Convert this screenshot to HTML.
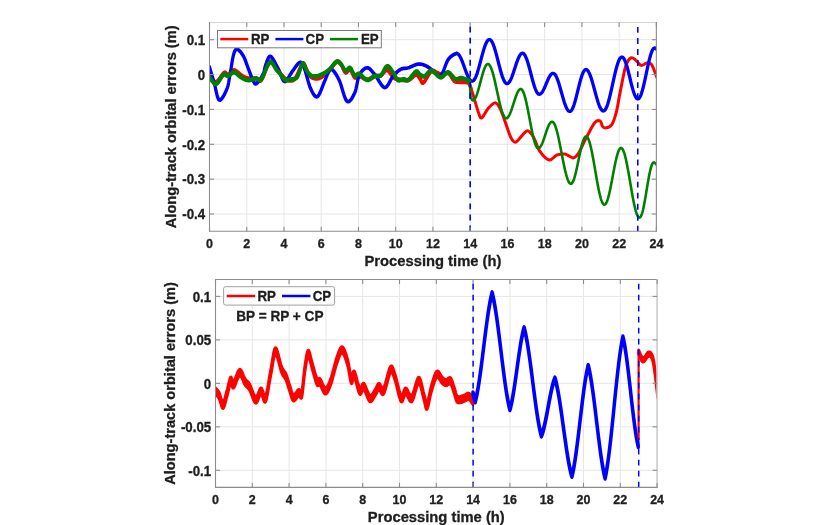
<!DOCTYPE html>
<html><head><meta charset="utf-8"><style>
html,body{margin:0;padding:0;background:#fff;width:834px;height:525px;overflow:hidden}
svg{display:block;will-change:transform;filter:blur(0.35px)}
text{font-family:"Liberation Sans", sans-serif;font-weight:bold;stroke:#1e1e1e;stroke-width:0.3px}
</style></head><body>
<svg width="834" height="525" viewBox="0 0 834 525" font-family="'Liberation Sans', sans-serif" font-weight="bold" fill="#1e1e1e">
<defs>
<clipPath id="ct"><rect x="209.5" y="22.5" width="446.88" height="208.70"/></clipPath>
<clipPath id="cb"><rect x="215.5" y="279.5" width="441.60" height="207.90"/></clipPath>
</defs>
<rect width="834" height="525" fill="#fff"/>
<line x1="209.50" y1="22.5" x2="209.50" y2="231.2" stroke="#e6e6e6" stroke-width="1"/>
<line x1="246.74" y1="22.5" x2="246.74" y2="231.2" stroke="#e6e6e6" stroke-width="1"/>
<line x1="283.98" y1="22.5" x2="283.98" y2="231.2" stroke="#e6e6e6" stroke-width="1"/>
<line x1="321.22" y1="22.5" x2="321.22" y2="231.2" stroke="#e6e6e6" stroke-width="1"/>
<line x1="358.46" y1="22.5" x2="358.46" y2="231.2" stroke="#e6e6e6" stroke-width="1"/>
<line x1="395.70" y1="22.5" x2="395.70" y2="231.2" stroke="#e6e6e6" stroke-width="1"/>
<line x1="432.94" y1="22.5" x2="432.94" y2="231.2" stroke="#e6e6e6" stroke-width="1"/>
<line x1="470.18" y1="22.5" x2="470.18" y2="231.2" stroke="#e6e6e6" stroke-width="1"/>
<line x1="507.42" y1="22.5" x2="507.42" y2="231.2" stroke="#e6e6e6" stroke-width="1"/>
<line x1="544.66" y1="22.5" x2="544.66" y2="231.2" stroke="#e6e6e6" stroke-width="1"/>
<line x1="581.90" y1="22.5" x2="581.90" y2="231.2" stroke="#e6e6e6" stroke-width="1"/>
<line x1="619.14" y1="22.5" x2="619.14" y2="231.2" stroke="#e6e6e6" stroke-width="1"/>
<line x1="656.38" y1="22.5" x2="656.38" y2="231.2" stroke="#e6e6e6" stroke-width="1"/>
<line x1="209.5" y1="39.70" x2="656.38" y2="39.70" stroke="#e6e6e6" stroke-width="1"/>
<line x1="209.5" y1="74.56" x2="656.38" y2="74.56" stroke="#e6e6e6" stroke-width="1"/>
<line x1="209.5" y1="109.42" x2="656.38" y2="109.42" stroke="#e6e6e6" stroke-width="1"/>
<line x1="209.5" y1="144.28" x2="656.38" y2="144.28" stroke="#e6e6e6" stroke-width="1"/>
<line x1="209.5" y1="179.14" x2="656.38" y2="179.14" stroke="#e6e6e6" stroke-width="1"/>
<line x1="209.5" y1="214.00" x2="656.38" y2="214.00" stroke="#e6e6e6" stroke-width="1"/>
<line x1="215.50" y1="279.5" x2="215.50" y2="487.4" stroke="#e6e6e6" stroke-width="1"/>
<line x1="252.30" y1="279.5" x2="252.30" y2="487.4" stroke="#e6e6e6" stroke-width="1"/>
<line x1="289.10" y1="279.5" x2="289.10" y2="487.4" stroke="#e6e6e6" stroke-width="1"/>
<line x1="325.90" y1="279.5" x2="325.90" y2="487.4" stroke="#e6e6e6" stroke-width="1"/>
<line x1="362.70" y1="279.5" x2="362.70" y2="487.4" stroke="#e6e6e6" stroke-width="1"/>
<line x1="399.50" y1="279.5" x2="399.50" y2="487.4" stroke="#e6e6e6" stroke-width="1"/>
<line x1="436.30" y1="279.5" x2="436.30" y2="487.4" stroke="#e6e6e6" stroke-width="1"/>
<line x1="473.10" y1="279.5" x2="473.10" y2="487.4" stroke="#e6e6e6" stroke-width="1"/>
<line x1="509.90" y1="279.5" x2="509.90" y2="487.4" stroke="#e6e6e6" stroke-width="1"/>
<line x1="546.70" y1="279.5" x2="546.70" y2="487.4" stroke="#e6e6e6" stroke-width="1"/>
<line x1="583.50" y1="279.5" x2="583.50" y2="487.4" stroke="#e6e6e6" stroke-width="1"/>
<line x1="620.30" y1="279.5" x2="620.30" y2="487.4" stroke="#e6e6e6" stroke-width="1"/>
<line x1="657.10" y1="279.5" x2="657.10" y2="487.4" stroke="#e6e6e6" stroke-width="1"/>
<line x1="215.5" y1="296.40" x2="657.0999999999999" y2="296.40" stroke="#e6e6e6" stroke-width="1"/>
<line x1="215.5" y1="339.88" x2="657.0999999999999" y2="339.88" stroke="#e6e6e6" stroke-width="1"/>
<line x1="215.5" y1="383.35" x2="657.0999999999999" y2="383.35" stroke="#e6e6e6" stroke-width="1"/>
<line x1="215.5" y1="426.83" x2="657.0999999999999" y2="426.83" stroke="#e6e6e6" stroke-width="1"/>
<line x1="215.5" y1="470.30" x2="657.0999999999999" y2="470.30" stroke="#e6e6e6" stroke-width="1"/>
<g clip-path="url(#ct)">
<path d="M209.30,75.80 L209.82,76.33 L210.49,77.16 L211.29,78.14 L212.19,79.18 L213.16,80.15 L214.15,80.92 L215.14,81.37 L216.10,81.40 L217.08,80.87 L218.14,79.85 L219.24,78.50 L220.34,76.96 L221.43,75.40 L222.45,73.97 L223.39,72.81 L224.20,72.10 L224.86,71.87 L225.38,72.00 L225.80,72.39 L226.17,72.91 L226.52,73.47 L226.90,73.97 L227.35,74.28 L227.90,74.30 L228.54,73.97 L229.23,73.37 L229.96,72.59 L230.73,71.74 L231.53,70.91 L232.36,70.21 L233.22,69.74 L234.10,69.60 L235.03,69.83 L236.02,70.35 L237.05,71.08 L238.10,71.95 L239.15,72.87 L240.18,73.78 L241.17,74.58 L242.10,75.20 L242.96,75.68 L243.76,76.10 L244.52,76.47 L245.26,76.80 L246.00,77.08 L246.74,77.32 L247.50,77.53 L248.30,77.70 L249.14,77.81 L250.01,77.84 L250.91,77.81 L251.81,77.76 L252.71,77.69 L253.59,77.65 L254.46,77.64 L255.30,77.70 L256.09,77.96 L256.83,78.45 L257.55,79.06 L258.26,79.64 L258.98,80.09 L259.73,80.26 L260.53,80.04 L261.40,79.30 L262.35,77.79 L263.38,75.52 L264.45,72.76 L265.56,69.77 L266.67,66.84 L267.76,64.22 L268.81,62.18 L269.80,61.00 L270.72,60.71 L271.59,61.06 L272.43,61.92 L273.25,63.13 L274.06,64.55 L274.88,66.04 L275.72,67.43 L276.60,68.60 L277.53,69.65 L278.51,70.77 L279.51,71.94 L280.52,73.10 L281.52,74.23 L282.48,75.27 L283.38,76.21 L284.20,77.00 L284.92,77.65 L285.56,78.21 L286.14,78.68 L286.69,79.06 L287.22,79.35 L287.77,79.58 L288.35,79.72 L289.00,79.80 L289.70,79.86 L290.42,79.92 L291.16,79.93 L291.92,79.86 L292.70,79.64 L293.51,79.24 L294.34,78.61 L295.20,77.70 L296.11,76.29 L297.09,74.33 L298.12,72.02 L299.16,69.59 L300.18,67.24 L301.16,65.18 L302.08,63.63 L302.90,62.80 L303.61,62.76 L304.25,63.35 L304.82,64.41 L305.34,65.77 L305.85,67.30 L306.34,68.84 L306.85,70.22 L307.40,71.30 L307.95,72.17 L308.47,73.00 L308.99,73.80 L309.51,74.55 L310.05,75.24 L310.64,75.85 L311.28,76.37 L312.00,76.80 L312.80,77.15 L313.65,77.45 L314.56,77.68 L315.51,77.83 L316.50,77.88 L317.52,77.82 L318.55,77.63 L319.60,77.30 L320.68,76.80 L321.82,76.12 L323.00,75.31 L324.20,74.39 L325.40,73.40 L326.58,72.37 L327.72,71.32 L328.80,70.30 L329.85,69.19 L330.88,67.92 L331.90,66.57 L332.89,65.21 L333.84,63.92 L334.75,62.79 L335.60,61.89 L336.40,61.30 L337.12,61.02 L337.76,60.99 L338.35,61.15 L338.89,61.49 L339.41,61.95 L339.93,62.52 L340.45,63.15 L341.00,63.80 L341.57,64.61 L342.13,65.67 L342.69,66.88 L343.25,68.14 L343.81,69.36 L344.37,70.44 L344.93,71.29 L345.50,71.80 L346.07,71.88 L346.64,71.57 L347.22,71.00 L347.79,70.30 L348.37,69.60 L348.95,69.03 L349.52,68.72 L350.10,68.80 L350.68,69.34 L351.25,70.25 L351.83,71.41 L352.41,72.71 L352.98,74.01 L353.56,75.21 L354.13,76.18 L354.70,76.80 L355.24,77.03 L355.75,76.98 L356.24,76.71 L356.74,76.33 L357.26,75.91 L357.83,75.55 L358.47,75.31 L359.20,75.30 L360.04,75.55 L360.96,75.99 L361.96,76.55 L363.01,77.17 L364.08,77.77 L365.15,78.29 L366.20,78.66 L367.20,78.80 L368.18,78.69 L369.16,78.37 L370.15,77.91 L371.12,77.36 L372.08,76.78 L373.01,76.22 L373.92,75.74 L374.80,75.40 L375.63,75.22 L376.43,75.15 L377.20,75.15 L377.94,75.17 L378.68,75.19 L379.41,75.14 L380.15,74.99 L380.90,74.70 L381.66,74.17 L382.43,73.39 L383.19,72.47 L383.95,71.52 L384.71,70.62 L385.47,69.89 L386.24,69.41 L387.00,69.30 L387.77,69.61 L388.56,70.29 L389.35,71.23 L390.14,72.33 L390.92,73.48 L391.68,74.60 L392.41,75.57 L393.10,76.30 L393.71,76.81 L394.21,77.22 L394.67,77.54 L395.12,77.79 L395.60,77.99 L396.16,78.16 L396.85,78.32 L397.70,78.50 L398.76,78.71 L400.00,78.94 L401.36,79.17 L402.81,79.38 L404.27,79.52 L405.71,79.57 L407.07,79.51 L408.30,79.30 L409.43,78.86 L410.52,78.17 L411.56,77.32 L412.56,76.40 L413.51,75.51 L414.40,74.73 L415.23,74.17 L416.00,73.90 L416.68,73.95 L417.27,74.24 L417.80,74.71 L418.27,75.31 L418.71,75.99 L419.13,76.68 L419.55,77.34 L420.00,77.90 L420.42,78.51 L420.78,79.26 L421.12,80.08 L421.45,80.87 L421.81,81.54 L422.24,81.99 L422.76,82.14 L423.40,81.90 L424.20,81.11 L425.13,79.80 L426.16,78.14 L427.26,76.29 L428.37,74.42 L429.45,72.70 L430.48,71.31 L431.40,70.40 L432.23,69.99 L433.01,69.92 L433.75,70.11 L434.46,70.47 L435.14,70.95 L435.81,71.45 L436.46,71.89 L437.10,72.20 L437.71,72.44 L438.27,72.70 L438.80,72.97 L439.32,73.24 L439.85,73.48 L440.41,73.68 L441.02,73.83 L441.70,73.90 L442.46,73.83 L443.29,73.60 L444.17,73.28 L445.08,72.94 L446.00,72.64 L446.91,72.46 L447.78,72.45 L448.60,72.70 L449.37,73.26 L450.11,74.11 L450.83,75.16 L451.53,76.31 L452.22,77.47 L452.90,78.57 L453.60,79.51 L454.30,80.20 L455.00,80.65 L455.67,80.94 L456.34,81.10 L457.01,81.18 L457.69,81.21 L458.41,81.21 L459.18,81.23 L460.00,81.30 L460.92,81.37 L461.96,81.37 L463.06,81.35 L464.17,81.33 L465.27,81.35 L466.30,81.42 L467.23,81.60 L468.00,81.90 L468.63,82.38 L469.15,83.04 L469.59,83.81 L469.95,84.64 L470.25,85.46 L470.50,86.22 L470.71,86.85 L470.90,87.30 L470.90,88.70 L470.71,88.25 L470.50,87.62 L470.25,86.86 L469.95,86.04 L469.59,85.21 L469.15,84.44 L468.63,83.78 L468.00,83.30 L467.23,83.00 L466.30,82.82 L465.27,82.75 L464.17,82.73 L463.06,82.75 L461.96,82.77 L460.92,82.77 L460.00,82.70 L459.18,82.63 L458.41,82.61 L457.69,82.61 L457.01,82.58 L456.34,82.50 L455.67,82.34 L455.00,82.05 L454.30,81.60 L453.60,80.91 L452.90,79.97 L452.22,78.87 L451.53,77.71 L450.83,76.56 L450.11,75.51 L449.37,74.66 L448.60,74.10 L447.78,73.85 L446.91,73.86 L446.00,74.04 L445.08,74.34 L444.17,74.68 L443.29,75.00 L442.46,75.23 L441.70,75.30 L441.02,75.23 L440.41,75.08 L439.85,74.88 L439.32,74.64 L438.80,74.37 L438.27,74.10 L437.71,73.84 L437.10,73.60 L436.46,73.29 L435.81,72.85 L435.14,72.35 L434.46,71.88 L433.75,71.51 L433.01,71.32 L432.23,71.39 L431.40,71.80 L430.48,72.71 L429.45,74.10 L428.37,75.82 L427.26,77.69 L426.16,79.54 L425.13,81.20 L424.20,82.51 L423.40,83.30 L422.76,83.54 L422.24,83.39 L421.81,82.94 L421.45,82.27 L421.12,81.48 L420.78,80.66 L420.42,79.91 L420.00,79.30 L419.55,78.74 L419.13,78.08 L418.71,77.39 L418.27,76.71 L417.80,76.11 L417.27,75.64 L416.68,75.35 L416.00,75.30 L415.23,75.57 L414.40,76.13 L413.51,76.91 L412.56,77.80 L411.56,78.72 L410.52,79.57 L409.43,80.26 L408.30,80.70 L407.07,80.91 L405.71,80.97 L404.27,80.92 L402.81,80.78 L401.36,80.58 L400.00,80.34 L398.76,80.11 L397.70,79.90 L396.85,79.72 L396.16,79.56 L395.60,79.39 L395.12,79.19 L394.67,78.94 L394.21,78.62 L393.71,78.21 L393.10,77.70 L392.41,76.97 L391.68,76.00 L390.92,74.88 L390.14,73.73 L389.35,72.63 L388.56,71.69 L387.77,71.01 L387.00,70.70 L386.24,70.81 L385.47,71.29 L384.71,72.02 L383.95,72.92 L383.19,73.87 L382.43,74.79 L381.66,75.57 L380.90,76.10 L380.15,76.39 L379.41,76.54 L378.68,76.59 L377.94,76.57 L377.20,76.55 L376.43,76.55 L375.63,76.62 L374.80,76.80 L373.92,77.14 L373.01,77.62 L372.08,78.18 L371.12,78.76 L370.15,79.31 L369.16,79.77 L368.18,80.09 L367.20,80.20 L366.20,80.06 L365.15,79.69 L364.08,79.17 L363.01,78.57 L361.96,77.95 L360.96,77.39 L360.04,76.95 L359.20,76.70 L358.47,76.71 L357.83,76.95 L357.26,77.31 L356.74,77.73 L356.24,78.11 L355.75,78.38 L355.24,78.43 L354.70,78.20 L354.13,77.58 L353.56,76.61 L352.98,75.41 L352.41,74.11 L351.83,72.81 L351.25,71.65 L350.68,70.74 L350.10,70.20 L349.52,70.12 L348.95,70.43 L348.37,71.00 L347.79,71.70 L347.22,72.40 L346.64,72.97 L346.07,73.28 L345.50,73.20 L344.93,72.69 L344.37,71.84 L343.81,70.76 L343.25,69.54 L342.69,68.28 L342.13,67.07 L341.57,66.01 L341.00,65.20 L340.45,64.55 L339.93,63.92 L339.41,63.35 L338.89,62.89 L338.35,62.55 L337.76,62.39 L337.12,62.42 L336.40,62.70 L335.60,63.29 L334.75,64.19 L333.84,65.32 L332.89,66.61 L331.90,67.97 L330.88,69.32 L329.85,70.59 L328.80,71.70 L327.72,72.72 L326.58,73.77 L325.40,74.80 L324.20,75.79 L323.00,76.71 L321.82,77.52 L320.68,78.20 L319.60,78.70 L318.55,79.03 L317.52,79.22 L316.50,79.28 L315.51,79.23 L314.56,79.08 L313.65,78.85 L312.80,78.55 L312.00,78.20 L311.28,77.77 L310.64,77.25 L310.05,76.64 L309.51,75.95 L308.99,75.20 L308.47,74.40 L307.95,73.57 L307.40,72.70 L306.85,71.62 L306.34,70.24 L305.85,68.70 L305.34,67.17 L304.82,65.81 L304.25,64.75 L303.61,64.16 L302.90,64.20 L302.08,65.03 L301.16,66.58 L300.18,68.64 L299.16,70.99 L298.12,73.42 L297.09,75.73 L296.11,77.69 L295.20,79.10 L294.34,80.01 L293.51,80.64 L292.70,81.04 L291.92,81.26 L291.16,81.33 L290.42,81.32 L289.70,81.26 L289.00,81.20 L288.35,81.12 L287.77,80.98 L287.22,80.75 L286.69,80.46 L286.14,80.08 L285.56,79.61 L284.92,79.05 L284.20,78.40 L283.38,77.61 L282.48,76.67 L281.52,75.63 L280.52,74.50 L279.51,73.34 L278.51,72.17 L277.53,71.05 L276.60,70.00 L275.72,68.83 L274.88,67.44 L274.06,65.95 L273.25,64.53 L272.43,63.32 L271.59,62.46 L270.72,62.11 L269.80,62.40 L268.81,63.58 L267.76,65.62 L266.67,68.24 L265.56,71.17 L264.45,74.16 L263.38,76.92 L262.35,79.19 L261.40,80.70 L260.53,81.44 L259.73,81.66 L258.98,81.49 L258.26,81.04 L257.55,80.46 L256.83,79.85 L256.09,79.36 L255.30,79.10 L254.46,79.04 L253.59,79.05 L252.71,79.09 L251.81,79.16 L250.91,79.21 L250.01,79.24 L249.14,79.21 L248.30,79.10 L247.50,78.93 L246.74,78.72 L246.00,78.48 L245.26,78.20 L244.52,77.87 L243.76,77.50 L242.96,77.08 L242.10,76.60 L241.17,75.98 L240.18,75.18 L239.15,74.27 L238.10,73.35 L237.05,72.48 L236.02,71.75 L235.03,71.23 L234.10,71.00 L233.22,71.14 L232.36,71.61 L231.53,72.31 L230.73,73.14 L229.96,73.99 L229.23,74.77 L228.54,75.37 L227.90,75.70 L227.35,75.68 L226.90,75.37 L226.52,74.88 L226.17,74.31 L225.80,73.79 L225.38,73.40 L224.86,73.27 L224.20,73.50 L223.39,74.21 L222.45,75.37 L221.43,76.80 L220.34,78.36 L219.24,79.90 L218.14,81.25 L217.08,82.27 L216.10,82.80 L215.14,82.77 L214.15,82.32 L213.16,81.55 L212.19,80.58 L211.29,79.54 L210.49,78.56 L209.82,77.73 L209.30,77.20Z" fill="#ff0000" stroke="#ff0000" stroke-width="3.0" stroke-linejoin="round"/>
<path d="M470.9,88.0 C471.4,89.7 472.8,93.9 474.1,98.1 C475.4,102.3 477.4,110.0 478.7,113.3 C480.0,116.6 480.3,118.7 481.8,117.9 C483.3,117.2 485.7,111.3 487.9,108.8 C490.1,106.3 493.1,102.7 495.2,102.7 C497.2,102.7 498.6,105.7 500.2,108.7 C501.8,111.7 503.0,116.1 504.8,120.9 C506.6,125.7 509.1,134.1 510.9,137.7 C512.7,141.2 513.7,142.5 515.5,142.2 C517.3,141.9 519.6,138.0 521.6,136.1 C523.6,134.2 525.7,130.5 527.7,130.8 C529.7,131.1 531.8,134.3 533.8,137.7 C535.8,141.1 537.3,147.7 539.9,151.4 C542.5,155.1 546.5,159.4 549.3,160.0 C552.1,160.6 554.0,156.2 556.6,155.2 C559.2,154.2 562.0,153.6 564.8,154.0 C567.6,154.4 570.9,158.0 573.2,157.9 C575.5,157.8 576.9,155.6 578.5,153.3 C580.1,151.0 581.6,147.2 583.1,144.1 C584.6,141.0 585.7,138.6 587.7,135.0 C589.7,131.4 592.8,124.9 594.9,122.6 C597.0,120.3 598.9,120.4 600.2,121.0 C601.5,121.6 601.6,125.2 602.5,126.4 C603.4,127.6 604.0,128.2 605.5,127.9 C607.0,127.7 609.8,127.4 611.6,124.9 C613.4,122.4 614.8,118.0 616.2,112.7 C617.6,107.4 618.4,100.7 620.0,92.9 C621.6,85.1 623.9,71.9 625.7,66.1 C627.5,60.2 629.2,58.7 631.0,57.8 C632.8,56.9 634.7,59.5 636.4,60.8 C638.1,62.1 639.2,65.0 641.0,65.4 C642.8,65.8 645.2,63.2 647.0,63.1 C648.8,63.0 649.9,62.2 651.6,64.6 C653.3,67.0 656.1,75.4 657.0,77.6" fill="none" stroke="#ff0000" stroke-width="3.0" stroke-linejoin="round" stroke-linecap="round" />
<path d="M209.30,66.35 L209.66,67.52 L210.13,69.06 L210.70,70.88 L211.32,72.92 L211.99,75.11 L212.68,77.36 L213.36,79.60 L214.00,81.75 L214.61,84.07 L215.21,86.74 L215.81,89.56 L216.43,92.37 L217.06,94.97 L217.73,97.19 L218.44,98.85 L219.20,99.75 L220.06,99.82 L221.02,99.20 L222.04,98.04 L223.08,96.47 L224.11,94.67 L225.08,92.76 L225.96,90.91 L226.70,89.25 L227.29,87.75 L227.77,86.24 L228.16,84.70 L228.49,83.11 L228.79,81.43 L229.09,79.64 L229.41,77.73 L229.80,75.65 L230.23,73.27 L230.68,70.56 L231.14,67.64 L231.61,64.65 L232.09,61.72 L232.56,58.99 L233.03,56.59 L233.50,54.65 L233.95,53.13 L234.37,51.88 L234.78,50.88 L235.19,50.11 L235.63,49.57 L236.10,49.22 L236.62,49.05 L237.20,49.05 L237.86,49.27 L238.60,49.75 L239.40,50.45 L240.23,51.33 L241.06,52.34 L241.88,53.47 L242.67,54.65 L243.40,55.85 L244.07,57.13 L244.71,58.55 L245.33,60.09 L245.92,61.69 L246.51,63.35 L247.10,65.01 L247.69,66.66 L248.30,68.25 L248.93,69.88 L249.59,71.60 L250.25,73.37 L250.91,75.12 L251.55,76.79 L252.17,78.33 L252.76,79.67 L253.30,80.75 L253.76,81.62 L254.15,82.35 L254.49,82.92 L254.81,83.34 L255.14,83.59 L255.52,83.66 L255.96,83.55 L256.50,83.25 L257.17,82.69 L257.95,81.87 L258.81,80.82 L259.71,79.62 L260.60,78.31 L261.46,76.96 L262.24,75.62 L262.90,74.35 L263.44,73.09 L263.87,71.75 L264.24,70.37 L264.57,68.97 L264.88,67.59 L265.20,66.24 L265.57,64.95 L266.00,63.75 L266.47,62.51 L266.95,61.15 L267.45,59.78 L267.97,58.48 L268.52,57.35 L269.12,56.51 L269.78,56.04 L270.50,56.05 L271.31,56.62 L272.21,57.68 L273.17,59.13 L274.18,60.86 L275.19,62.74 L276.20,64.68 L277.18,66.55 L278.10,68.25 L278.96,69.99 L279.78,71.98 L280.57,74.07 L281.35,76.13 L282.13,78.02 L282.92,79.59 L283.74,80.72 L284.60,81.25 L285.50,81.10 L286.42,80.37 L287.37,79.18 L288.33,77.69 L289.30,76.02 L290.27,74.31 L291.24,72.71 L292.20,71.35 L293.17,70.06 L294.17,68.64 L295.18,67.18 L296.19,65.75 L297.17,64.45 L298.11,63.36 L298.99,62.56 L299.80,62.15 L300.51,62.09 L301.13,62.28 L301.68,62.71 L302.19,63.39 L302.70,64.29 L303.21,65.40 L303.77,66.73 L304.40,68.25 L305.09,70.15 L305.80,72.50 L306.55,75.17 L307.31,78.01 L308.10,80.86 L308.89,83.58 L309.69,86.03 L310.50,88.05 L311.32,89.80 L312.15,91.49 L312.99,93.04 L313.85,94.39 L314.71,95.48 L315.58,96.23 L316.44,96.57 L317.30,96.45 L318.17,95.71 L319.07,94.34 L319.98,92.52 L320.89,90.39 L321.78,88.11 L322.63,85.84 L323.45,83.73 L324.20,81.95 L324.89,80.38 L325.53,78.81 L326.13,77.29 L326.69,75.84 L327.23,74.49 L327.76,73.28 L328.28,72.22 L328.80,71.35 L329.29,70.64 L329.74,70.03 L330.15,69.55 L330.56,69.22 L330.99,69.05 L331.46,69.07 L331.99,69.30 L332.60,69.75 L333.30,70.43 L334.07,71.33 L334.90,72.43 L335.76,73.71 L336.66,75.17 L337.57,76.79 L338.49,78.55 L339.40,80.45 L340.31,82.75 L341.24,85.58 L342.19,88.72 L343.14,91.94 L344.11,95.01 L345.07,97.71 L346.04,99.80 L347.00,101.05 L347.98,101.45 L348.99,101.21 L350.01,100.44 L351.03,99.26 L352.03,97.77 L352.98,96.10 L353.88,94.35 L354.70,92.65 L355.41,90.79 L356.01,88.59 L356.55,86.16 L357.04,83.62 L357.54,81.10 L358.08,78.70 L358.68,76.54 L359.40,74.75 L360.23,73.24 L361.14,71.87 L362.11,70.65 L363.12,69.61 L364.15,68.75 L365.19,68.11 L366.21,67.71 L367.20,67.55 L368.14,67.69 L369.06,68.12 L369.96,68.80 L370.87,69.69 L371.79,70.73 L372.74,71.89 L373.74,73.11 L374.80,74.35 L375.94,75.85 L377.15,77.74 L378.41,79.85 L379.70,81.99 L381.00,84.00 L382.28,85.68 L383.52,86.85 L384.70,87.35 L385.83,87.05 L386.92,86.09 L388.00,84.63 L389.04,82.84 L390.07,80.89 L391.09,78.97 L392.10,77.23 L393.10,75.85 L394.09,74.74 L395.06,73.70 L396.01,72.72 L396.95,71.83 L397.89,71.01 L398.82,70.27 L399.76,69.61 L400.70,69.05 L401.63,68.62 L402.53,68.36 L403.41,68.20 L404.31,68.11 L405.22,68.05 L406.18,67.96 L407.20,67.81 L408.30,67.55 L409.50,67.14 L410.79,66.60 L412.16,65.99 L413.56,65.37 L414.97,64.78 L416.36,64.28 L417.72,63.92 L419.00,63.75 L420.23,63.78 L421.46,63.97 L422.66,64.28 L423.84,64.68 L424.98,65.16 L426.07,65.68 L427.12,66.22 L428.10,66.75 L429.00,67.32 L429.82,67.97 L430.57,68.68 L431.29,69.41 L431.99,70.14 L432.69,70.85 L433.42,71.49 L434.20,72.05 L435.03,72.64 L435.88,73.32 L436.76,74.03 L437.64,74.67 L438.52,75.15 L439.40,75.40 L440.26,75.33 L441.10,74.85 L441.93,73.83 L442.76,72.28 L443.58,70.37 L444.39,68.25 L445.19,66.06 L445.96,63.97 L446.70,62.11 L447.40,60.65 L448.06,59.55 L448.67,58.65 L449.25,57.91 L449.81,57.31 L450.35,56.79 L450.89,56.34 L451.44,55.90 L452.00,55.45 L452.61,55.01 L453.26,54.62 L453.93,54.27 L454.59,53.97 L455.21,53.72 L455.77,53.50 L456.25,53.31 L456.60,53.15 L456.60,53.65 L456.25,53.81 L455.77,54.00 L455.21,54.22 L454.59,54.47 L453.93,54.77 L453.26,55.12 L452.61,55.51 L452.00,55.95 L451.44,56.40 L450.89,56.84 L450.35,57.29 L449.81,57.81 L449.25,58.41 L448.67,59.15 L448.06,60.05 L447.40,61.15 L446.70,62.61 L445.96,64.47 L445.19,66.56 L444.39,68.75 L443.58,70.87 L442.76,72.78 L441.93,74.33 L441.10,75.35 L440.26,75.83 L439.40,75.90 L438.52,75.65 L437.64,75.17 L436.76,74.53 L435.88,73.82 L435.03,73.14 L434.20,72.55 L433.42,71.99 L432.69,71.35 L431.99,70.64 L431.29,69.91 L430.57,69.18 L429.82,68.47 L429.00,67.82 L428.10,67.25 L427.12,66.72 L426.07,66.18 L424.98,65.66 L423.84,65.18 L422.66,64.78 L421.46,64.47 L420.23,64.28 L419.00,64.25 L417.72,64.42 L416.36,64.78 L414.97,65.28 L413.56,65.87 L412.16,66.49 L410.79,67.10 L409.50,67.64 L408.30,68.05 L407.20,68.31 L406.18,68.46 L405.22,68.55 L404.31,68.61 L403.41,68.70 L402.53,68.86 L401.63,69.12 L400.70,69.55 L399.76,70.11 L398.82,70.77 L397.89,71.51 L396.95,72.33 L396.01,73.22 L395.06,74.20 L394.09,75.24 L393.10,76.35 L392.10,77.73 L391.09,79.47 L390.07,81.39 L389.04,83.34 L388.00,85.13 L386.92,86.59 L385.83,87.55 L384.70,87.85 L383.52,87.35 L382.28,86.18 L381.00,84.50 L379.70,82.49 L378.41,80.35 L377.15,78.24 L375.94,76.35 L374.80,74.85 L373.74,73.61 L372.74,72.39 L371.79,71.23 L370.87,70.19 L369.96,69.30 L369.06,68.62 L368.14,68.19 L367.20,68.05 L366.21,68.21 L365.19,68.61 L364.15,69.25 L363.12,70.11 L362.11,71.15 L361.14,72.37 L360.23,73.74 L359.40,75.25 L358.68,77.04 L358.08,79.20 L357.54,81.60 L357.04,84.12 L356.55,86.66 L356.01,89.09 L355.41,91.29 L354.70,93.15 L353.88,94.85 L352.98,96.60 L352.03,98.27 L351.03,99.76 L350.01,100.94 L348.99,101.71 L347.98,101.95 L347.00,101.55 L346.04,100.30 L345.07,98.21 L344.11,95.51 L343.14,92.44 L342.19,89.22 L341.24,86.08 L340.31,83.25 L339.40,80.95 L338.49,79.05 L337.57,77.29 L336.66,75.67 L335.76,74.21 L334.90,72.93 L334.07,71.83 L333.30,70.93 L332.60,70.25 L331.99,69.80 L331.46,69.57 L330.99,69.55 L330.56,69.72 L330.15,70.05 L329.74,70.53 L329.29,71.14 L328.80,71.85 L328.28,72.72 L327.76,73.78 L327.23,74.99 L326.69,76.34 L326.13,77.79 L325.53,79.31 L324.89,80.88 L324.20,82.45 L323.45,84.23 L322.63,86.34 L321.78,88.61 L320.89,90.89 L319.98,93.02 L319.07,94.84 L318.17,96.21 L317.30,96.95 L316.44,97.07 L315.58,96.73 L314.71,95.98 L313.85,94.89 L312.99,93.54 L312.15,91.99 L311.32,90.30 L310.50,88.55 L309.69,86.53 L308.89,84.08 L308.10,81.36 L307.31,78.51 L306.55,75.67 L305.80,73.00 L305.09,70.65 L304.40,68.75 L303.77,67.23 L303.21,65.90 L302.70,64.79 L302.19,63.89 L301.68,63.21 L301.13,62.78 L300.51,62.59 L299.80,62.65 L298.99,63.06 L298.11,63.86 L297.17,64.95 L296.19,66.25 L295.18,67.68 L294.17,69.14 L293.17,70.56 L292.20,71.85 L291.24,73.21 L290.27,74.81 L289.30,76.52 L288.33,78.19 L287.37,79.68 L286.42,80.87 L285.50,81.60 L284.60,81.75 L283.74,81.22 L282.92,80.09 L282.13,78.52 L281.35,76.63 L280.57,74.57 L279.78,72.48 L278.96,70.49 L278.10,68.75 L277.18,67.05 L276.20,65.18 L275.19,63.24 L274.18,61.36 L273.17,59.63 L272.21,58.18 L271.31,57.12 L270.50,56.55 L269.78,56.54 L269.12,57.01 L268.52,57.85 L267.97,58.98 L267.45,60.28 L266.95,61.65 L266.47,63.01 L266.00,64.25 L265.57,65.45 L265.20,66.74 L264.88,68.09 L264.57,69.47 L264.24,70.87 L263.87,72.25 L263.44,73.59 L262.90,74.85 L262.24,76.12 L261.46,77.46 L260.60,78.81 L259.71,80.12 L258.81,81.32 L257.95,82.37 L257.17,83.19 L256.50,83.75 L255.96,84.05 L255.52,84.16 L255.14,84.09 L254.81,83.84 L254.49,83.42 L254.15,82.85 L253.76,82.12 L253.30,81.25 L252.76,80.17 L252.17,78.83 L251.55,77.29 L250.91,75.62 L250.25,73.87 L249.59,72.10 L248.93,70.38 L248.30,68.75 L247.69,67.16 L247.10,65.51 L246.51,63.85 L245.92,62.19 L245.33,60.59 L244.71,59.05 L244.07,57.63 L243.40,56.35 L242.67,55.15 L241.88,53.97 L241.06,52.84 L240.23,51.83 L239.40,50.95 L238.60,50.25 L237.86,49.77 L237.20,49.55 L236.62,49.55 L236.10,49.72 L235.63,50.07 L235.19,50.61 L234.78,51.38 L234.37,52.38 L233.95,53.63 L233.50,55.15 L233.03,57.09 L232.56,59.49 L232.09,62.22 L231.61,65.15 L231.14,68.14 L230.68,71.06 L230.23,73.77 L229.80,76.15 L229.41,78.23 L229.09,80.14 L228.79,81.93 L228.49,83.61 L228.16,85.20 L227.77,86.74 L227.29,88.25 L226.70,89.75 L225.96,91.41 L225.08,93.26 L224.11,95.17 L223.08,96.97 L222.04,98.54 L221.02,99.70 L220.06,100.32 L219.20,100.25 L218.44,99.35 L217.73,97.69 L217.06,95.47 L216.43,92.87 L215.81,90.06 L215.21,87.24 L214.61,84.57 L214.00,82.25 L213.36,80.10 L212.68,77.86 L211.99,75.61 L211.32,73.42 L210.70,71.38 L210.13,69.56 L209.66,68.02 L209.30,66.85Z" fill="#0000ff" stroke="#0000ff" stroke-width="3.2" stroke-linejoin="round"/>
<path d="M456.60,53.40 L457.10,53.47 L457.61,53.68 L458.11,54.04 L458.61,54.53 L459.12,55.15 L459.62,55.89 L460.12,56.75 L460.63,57.72 L461.13,58.79 L461.63,59.95 L462.14,61.18 L462.64,62.47 L463.14,63.82 L463.65,65.20 L464.15,66.60 L464.65,68.00 L465.15,69.40 L465.66,70.78 L466.16,72.13 L466.66,73.42 L467.17,74.65 L467.67,75.81 L468.17,76.88 L468.68,77.85 L469.18,78.71 L469.68,79.45 L470.19,80.07 L470.69,80.56 L471.19,80.92 L471.70,81.13 L472.20,81.20 L472.71,81.11 L473.21,80.84 L473.72,80.40 L474.22,79.79 L474.73,79.01 L475.24,78.08 L475.74,76.99 L476.25,75.76 L476.75,74.40 L477.26,72.91 L477.76,71.33 L478.27,69.64 L478.78,67.88 L479.28,66.06 L479.79,64.18 L480.29,62.27 L480.80,60.35 L481.31,58.43 L481.81,56.52 L482.32,54.64 L482.82,52.82 L483.33,51.06 L483.84,49.37 L484.34,47.79 L484.85,46.30 L485.35,44.94 L485.86,43.71 L486.36,42.62 L486.87,41.69 L487.38,40.91 L487.88,40.30 L488.39,39.86 L488.89,39.59 L489.40,39.50 L489.90,39.59 L490.41,39.86 L490.91,40.30 L491.41,40.91 L491.91,41.69 L492.42,42.63 L492.92,43.72 L493.42,44.96 L493.93,46.33 L494.43,47.82 L494.93,49.43 L495.43,51.13 L495.94,52.91 L496.44,54.77 L496.94,56.68 L497.45,58.63 L497.95,60.61 L498.45,62.59 L498.95,64.57 L499.46,66.52 L499.96,68.43 L500.46,70.29 L500.97,72.07 L501.47,73.77 L501.97,75.38 L502.47,76.87 L502.98,78.24 L503.48,79.48 L503.98,80.57 L504.49,81.51 L504.99,82.29 L505.49,82.90 L505.99,83.34 L506.50,83.61 L507.00,83.70 L507.50,83.62 L508.00,83.39 L508.50,83.00 L509.00,82.46 L509.50,81.78 L510.00,80.97 L510.50,80.02 L511.00,78.96 L511.50,77.78 L512.00,76.52 L512.50,75.17 L513.00,73.75 L513.50,72.27 L514.00,70.76 L514.50,69.22 L515.00,67.68 L515.50,66.14 L516.00,64.63 L516.50,63.15 L517.00,61.73 L517.50,60.38 L518.00,59.12 L518.50,57.94 L519.00,56.88 L519.50,55.93 L520.00,55.12 L520.50,54.44 L521.00,53.90 L521.50,53.51 L522.00,53.28 L522.50,53.20 L523.01,53.29 L523.52,53.57 L524.03,54.03 L524.54,54.67 L525.05,55.48 L525.55,56.46 L526.06,57.60 L526.57,58.88 L527.08,60.29 L527.59,61.83 L528.10,63.48 L528.61,65.21 L529.12,67.03 L529.63,68.91 L530.14,70.83 L530.65,72.77 L531.15,74.73 L531.66,76.67 L532.17,78.59 L532.68,80.47 L533.19,82.29 L533.70,84.02 L534.21,85.67 L534.72,87.21 L535.23,88.62 L535.74,89.90 L536.25,91.04 L536.75,92.02 L537.26,92.83 L537.77,93.47 L538.28,93.93 L538.79,94.21 L539.30,94.30 L539.81,94.23 L540.32,94.02 L540.83,93.67 L541.34,93.18 L541.86,92.57 L542.37,91.84 L542.88,91.01 L543.39,90.07 L543.90,89.05 L544.41,87.96 L544.92,86.81 L545.43,85.62 L545.94,84.41 L546.46,83.19 L546.97,81.98 L547.48,80.79 L547.99,79.64 L548.50,78.55 L549.01,77.53 L549.52,76.59 L550.03,75.76 L550.54,75.03 L551.06,74.42 L551.57,73.93 L552.08,73.58 L552.59,73.37 L553.10,73.30 L553.61,73.39 L554.11,73.65 L554.62,74.07 L555.12,74.67 L555.63,75.42 L556.14,76.33 L556.64,77.39 L557.15,78.58 L557.65,79.89 L558.16,81.32 L558.67,82.85 L559.17,84.47 L559.68,86.15 L560.18,87.90 L560.69,89.68 L561.20,91.49 L561.70,93.31 L562.21,95.12 L562.72,96.90 L563.22,98.65 L563.73,100.33 L564.23,101.95 L564.74,103.48 L565.25,104.91 L565.75,106.22 L566.26,107.41 L566.76,108.47 L567.27,109.38 L567.78,110.13 L568.28,110.73 L568.79,111.15 L569.29,111.41 L569.80,111.50 L570.30,111.40 L570.81,111.10 L571.31,110.60 L571.81,109.90 L572.32,109.02 L572.82,107.96 L573.32,106.73 L573.82,105.35 L574.33,103.82 L574.83,102.17 L575.33,100.40 L575.84,98.54 L576.34,96.60 L576.84,94.60 L577.35,92.56 L577.85,90.50 L578.35,88.44 L578.86,86.40 L579.36,84.40 L579.86,82.46 L580.37,80.60 L580.87,78.83 L581.37,77.18 L581.88,75.65 L582.38,74.27 L582.88,73.04 L583.38,71.98 L583.89,71.10 L584.39,70.40 L584.89,69.90 L585.40,69.60 L585.90,69.50 L586.40,69.58 L586.90,69.83 L587.40,70.25 L587.90,70.82 L588.40,71.55 L588.90,72.44 L589.40,73.46 L589.90,74.62 L590.40,75.91 L590.90,77.31 L591.40,78.82 L591.90,80.42 L592.40,82.09 L592.90,83.84 L593.40,85.63 L593.90,87.46 L594.40,89.32 L594.90,91.18 L595.40,93.04 L595.90,94.87 L596.40,96.66 L596.90,98.41 L597.40,100.08 L597.90,101.68 L598.40,103.19 L598.90,104.59 L599.40,105.88 L599.90,107.04 L600.40,108.06 L600.90,108.95 L601.40,109.68 L601.90,110.25 L602.40,110.67 L602.90,110.92 L603.40,111.00 L603.90,110.90 L604.40,110.61 L604.90,110.13 L605.40,109.46 L605.90,108.60 L606.40,107.57 L606.90,106.37 L607.40,105.01 L607.90,103.49 L608.40,101.84 L608.90,100.06 L609.40,98.16 L609.90,96.16 L610.40,94.07 L610.90,91.91 L611.40,89.69 L611.90,87.43 L612.40,85.15 L612.90,82.85 L613.40,80.57 L613.90,78.31 L614.40,76.09 L614.90,73.93 L615.40,71.84 L615.90,69.84 L616.40,67.94 L616.90,66.16 L617.40,64.51 L617.90,62.99 L618.40,61.63 L618.90,60.43 L619.40,59.40 L619.90,58.54 L620.40,57.87 L620.90,57.39 L621.40,57.10 L621.90,57.00 L622.40,57.10 L622.90,57.40 L623.40,57.90 L623.90,58.59 L624.40,59.47 L624.90,60.53 L625.40,61.76 L625.90,63.14 L626.40,64.66 L626.90,66.31 L627.40,68.07 L627.90,69.93 L628.40,71.87 L628.90,73.86 L629.40,75.90 L629.90,77.95 L630.40,80.00 L630.90,82.04 L631.40,84.03 L631.90,85.97 L632.40,87.83 L632.90,89.59 L633.40,91.24 L633.90,92.76 L634.40,94.14 L634.90,95.37 L635.40,96.43 L635.90,97.31 L636.40,98.00 L636.90,98.50 L637.40,98.80 L637.90,98.90 L638.41,98.78 L638.92,98.44 L639.43,97.87 L639.94,97.07 L640.45,96.07 L640.95,94.85 L641.46,93.44 L641.97,91.86 L642.48,90.10 L642.99,88.19 L643.50,86.15 L644.01,83.99 L644.52,81.74 L645.03,79.41 L645.54,77.03 L646.05,74.61 L646.55,72.19 L647.06,69.77 L647.57,67.39 L648.08,65.06 L648.59,62.81 L649.10,60.65 L649.61,58.61 L650.12,56.70 L650.63,54.94 L651.14,53.36 L651.65,51.95 L652.15,50.73 L652.66,49.73 L653.17,48.93 L653.68,48.36 L654.19,48.02 L654.70,47.90 L655.25,48.04 L655.80,48.42 L656.35,48.95 L656.90,49.48 L657.45,49.86 L658.00,50.00" fill="none" stroke="#0000ff" stroke-width="3.3" stroke-linejoin="round" stroke-linecap="round" />
<path d="M209.30,76.40 L209.82,77.04 L210.51,78.02 L211.32,79.20 L212.23,80.44 L213.20,81.61 L214.19,82.57 L215.17,83.18 L216.10,83.30 L217.03,82.82 L218.00,81.82 L219.00,80.46 L220.01,78.89 L220.99,77.28 L221.93,75.79 L222.81,74.58 L223.60,73.80 L224.28,73.49 L224.86,73.50 L225.36,73.75 L225.83,74.14 L226.29,74.57 L226.77,74.95 L227.29,75.19 L227.90,75.20 L228.58,74.92 L229.30,74.43 L230.06,73.81 L230.84,73.13 L231.65,72.48 L232.46,71.94 L233.28,71.59 L234.10,71.50 L234.92,71.71 L235.74,72.16 L236.58,72.79 L237.43,73.53 L238.28,74.32 L239.14,75.10 L240.02,75.81 L240.90,76.40 L241.79,76.91 L242.70,77.42 L243.62,77.91 L244.54,78.37 L245.48,78.78 L246.41,79.11 L247.36,79.36 L248.30,79.50 L249.26,79.49 L250.26,79.33 L251.27,79.07 L252.28,78.74 L253.27,78.40 L254.23,78.08 L255.15,77.83 L256.00,77.70 L256.76,77.80 L257.44,78.13 L258.06,78.58 L258.66,79.04 L259.26,79.37 L259.89,79.48 L260.60,79.22 L261.40,78.50 L262.32,77.08 L263.33,74.97 L264.40,72.42 L265.51,69.67 L266.64,66.99 L267.74,64.60 L268.81,62.75 L269.80,61.70 L270.76,61.52 L271.72,62.00 L272.66,62.99 L273.58,64.29 L274.44,65.75 L275.25,67.19 L275.97,68.43 L276.60,69.30 L277.09,69.83 L277.43,70.18 L277.66,70.41 L277.85,70.59 L278.03,70.76 L278.25,70.98 L278.56,71.31 L279.00,71.80 L279.58,72.51 L280.25,73.40 L280.99,74.40 L281.77,75.46 L282.59,76.49 L283.42,77.44 L284.23,78.23 L285.00,78.80 L285.75,79.15 L286.51,79.33 L287.27,79.39 L288.03,79.34 L288.79,79.23 L289.54,79.08 L290.27,78.93 L291.00,78.80 L291.73,78.69 L292.48,78.57 L293.23,78.42 L293.97,78.25 L294.68,78.04 L295.35,77.78 L295.96,77.47 L296.50,77.10 L296.95,76.68 L297.30,76.24 L297.60,75.75 L297.85,75.21 L298.09,74.60 L298.35,73.92 L298.64,73.16 L299.00,72.30 L299.42,71.19 L299.86,69.78 L300.33,68.19 L300.82,66.58 L301.33,65.06 L301.85,63.79 L302.37,62.89 L302.90,62.50 L303.43,62.71 L303.98,63.41 L304.54,64.49 L305.11,65.81 L305.68,67.24 L306.25,68.65 L306.83,69.91 L307.40,70.90 L307.95,71.68 L308.47,72.42 L308.99,73.10 L309.51,73.72 L310.05,74.26 L310.64,74.73 L311.28,75.11 L312.00,75.40 L312.80,75.59 L313.65,75.70 L314.56,75.72 L315.51,75.67 L316.50,75.54 L317.52,75.33 L318.55,75.05 L319.60,74.70 L320.68,74.27 L321.82,73.75 L323.00,73.15 L324.20,72.48 L325.40,71.74 L326.58,70.96 L327.72,70.15 L328.80,69.30 L329.85,68.33 L330.88,67.18 L331.90,65.93 L332.89,64.67 L333.84,63.46 L334.75,62.40 L335.60,61.55 L336.40,61.00 L337.12,60.75 L337.76,60.72 L338.35,60.89 L338.89,61.21 L339.41,61.64 L339.93,62.16 L340.45,62.72 L341.00,63.30 L341.57,64.00 L342.13,64.91 L342.69,65.95 L343.25,67.03 L343.81,68.07 L344.37,68.98 L344.93,69.69 L345.50,70.10 L346.07,70.12 L346.64,69.79 L347.22,69.23 L347.79,68.55 L348.37,67.88 L348.95,67.33 L349.52,67.03 L350.10,67.10 L350.68,67.60 L351.25,68.47 L351.83,69.57 L352.41,70.81 L352.98,72.05 L353.56,73.19 L354.13,74.11 L354.70,74.70 L355.24,74.90 L355.75,74.79 L356.24,74.47 L356.74,74.04 L357.26,73.61 L357.83,73.25 L358.47,73.09 L359.20,73.20 L360.04,73.67 L360.96,74.42 L361.96,75.37 L363.01,76.40 L364.08,77.41 L365.15,78.30 L366.20,78.96 L367.20,79.30 L368.18,79.27 L369.16,78.95 L370.15,78.43 L371.12,77.77 L372.08,77.07 L373.01,76.38 L373.92,75.80 L374.80,75.40 L375.63,75.22 L376.43,75.20 L377.20,75.28 L377.94,75.38 L378.68,75.44 L379.41,75.40 L380.15,75.17 L380.90,74.70 L381.66,73.85 L382.43,72.64 L383.19,71.20 L383.95,69.67 L384.71,68.20 L385.47,66.92 L386.24,65.98 L387.00,65.50 L387.77,65.52 L388.56,65.91 L389.35,66.60 L390.14,67.49 L390.92,68.52 L391.68,69.60 L392.41,70.66 L393.10,71.60 L393.74,72.54 L394.32,73.61 L394.87,74.74 L395.40,75.88 L395.93,76.96 L396.48,77.94 L397.06,78.73 L397.70,79.30 L398.40,79.60 L399.16,79.66 L399.95,79.55 L400.76,79.33 L401.56,79.06 L402.35,78.79 L403.10,78.58 L403.80,78.50 L404.42,78.59 L404.96,78.80 L405.46,79.09 L405.95,79.38 L406.45,79.60 L406.99,79.71 L407.60,79.63 L408.30,79.30 L409.13,78.61 L410.09,77.58 L411.12,76.32 L412.18,74.96 L413.24,73.62 L414.26,72.41 L415.19,71.47 L416.00,70.90 L416.67,70.74 L417.25,70.88 L417.74,71.25 L418.19,71.77 L418.62,72.37 L419.04,72.97 L419.50,73.51 L420.00,73.90 L420.53,74.23 L421.06,74.59 L421.58,74.96 L422.12,75.29 L422.69,75.56 L423.28,75.73 L423.92,75.75 L424.60,75.60 L425.33,75.16 L426.09,74.40 L426.88,73.46 L427.71,72.43 L428.58,71.45 L429.48,70.62 L430.42,70.06 L431.40,69.90 L432.45,70.23 L433.57,71.00 L434.75,72.06 L435.96,73.26 L437.18,74.47 L438.37,75.54 L439.52,76.33 L440.60,76.70 L441.61,76.55 L442.58,75.98 L443.51,75.14 L444.41,74.15 L445.30,73.16 L446.19,72.32 L447.09,71.75 L448.00,71.60 L448.94,71.93 L449.89,72.65 L450.85,73.63 L451.81,74.75 L452.75,75.91 L453.67,76.98 L454.56,77.85 L455.40,78.40 L456.19,78.62 L456.92,78.60 L457.61,78.42 L458.28,78.13 L458.95,77.81 L459.63,77.52 L460.34,77.33 L461.10,77.30 L461.94,77.43 L462.86,77.66 L463.83,77.96 L464.81,78.30 L465.75,78.66 L466.62,79.02 L467.38,79.34 L468.00,79.60 L468.46,79.82 L468.81,80.03 L469.06,80.22 L469.23,80.39 L469.35,80.55 L469.44,80.69 L469.51,80.81 L469.60,80.90 L469.60,82.30 L469.51,82.21 L469.44,82.09 L469.35,81.95 L469.23,81.79 L469.06,81.62 L468.81,81.43 L468.46,81.22 L468.00,81.00 L467.38,80.74 L466.62,80.42 L465.75,80.06 L464.81,79.70 L463.83,79.36 L462.86,79.06 L461.94,78.83 L461.10,78.70 L460.34,78.73 L459.63,78.92 L458.95,79.21 L458.28,79.53 L457.61,79.82 L456.92,80.00 L456.19,80.02 L455.40,79.80 L454.56,79.25 L453.67,78.38 L452.75,77.31 L451.81,76.15 L450.85,75.03 L449.89,74.05 L448.94,73.33 L448.00,73.00 L447.09,73.15 L446.19,73.72 L445.30,74.56 L444.41,75.55 L443.51,76.54 L442.58,77.38 L441.61,77.95 L440.60,78.10 L439.52,77.73 L438.37,76.94 L437.18,75.87 L435.96,74.66 L434.75,73.46 L433.57,72.40 L432.45,71.63 L431.40,71.30 L430.42,71.46 L429.48,72.02 L428.58,72.85 L427.71,73.83 L426.88,74.86 L426.09,75.80 L425.33,76.56 L424.60,77.00 L423.92,77.15 L423.28,77.13 L422.69,76.96 L422.12,76.69 L421.58,76.36 L421.06,75.99 L420.53,75.63 L420.00,75.30 L419.50,74.91 L419.04,74.37 L418.62,73.77 L418.19,73.17 L417.74,72.65 L417.25,72.28 L416.67,72.14 L416.00,72.30 L415.19,72.87 L414.26,73.81 L413.24,75.02 L412.18,76.36 L411.12,77.72 L410.09,78.98 L409.13,80.01 L408.30,80.70 L407.60,81.03 L406.99,81.11 L406.45,81.00 L405.95,80.78 L405.46,80.49 L404.96,80.20 L404.42,79.99 L403.80,79.90 L403.10,79.98 L402.35,80.19 L401.56,80.46 L400.76,80.73 L399.95,80.95 L399.16,81.06 L398.40,81.00 L397.70,80.70 L397.06,80.13 L396.48,79.34 L395.93,78.36 L395.40,77.28 L394.87,76.14 L394.32,75.01 L393.74,73.94 L393.10,73.00 L392.41,72.06 L391.68,71.00 L390.92,69.92 L390.14,68.89 L389.35,68.00 L388.56,67.31 L387.77,66.92 L387.00,66.90 L386.24,67.38 L385.47,68.32 L384.71,69.60 L383.95,71.08 L383.19,72.60 L382.43,74.04 L381.66,75.25 L380.90,76.10 L380.15,76.57 L379.41,76.80 L378.68,76.84 L377.94,76.78 L377.20,76.68 L376.43,76.60 L375.63,76.62 L374.80,76.80 L373.92,77.20 L373.01,77.78 L372.08,78.47 L371.12,79.17 L370.15,79.83 L369.16,80.35 L368.18,80.67 L367.20,80.70 L366.20,80.36 L365.15,79.70 L364.08,78.81 L363.01,77.80 L361.96,76.77 L360.96,75.83 L360.04,75.07 L359.20,74.60 L358.47,74.49 L357.83,74.65 L357.26,75.01 L356.74,75.44 L356.24,75.87 L355.75,76.19 L355.24,76.30 L354.70,76.10 L354.13,75.51 L353.56,74.59 L352.98,73.45 L352.41,72.21 L351.83,70.97 L351.25,69.87 L350.68,69.00 L350.10,68.50 L349.52,68.43 L348.95,68.73 L348.37,69.28 L347.79,69.95 L347.22,70.63 L346.64,71.19 L346.07,71.52 L345.50,71.50 L344.93,71.09 L344.37,70.38 L343.81,69.47 L343.25,68.43 L342.69,67.35 L342.13,66.31 L341.57,65.40 L341.00,64.70 L340.45,64.12 L339.93,63.56 L339.41,63.04 L338.89,62.61 L338.35,62.29 L337.76,62.12 L337.12,62.15 L336.40,62.40 L335.60,62.95 L334.75,63.80 L333.84,64.86 L332.89,66.07 L331.90,67.33 L330.88,68.58 L329.85,69.73 L328.80,70.70 L327.72,71.55 L326.58,72.36 L325.40,73.14 L324.20,73.88 L323.00,74.55 L321.82,75.15 L320.68,75.67 L319.60,76.10 L318.55,76.45 L317.52,76.73 L316.50,76.94 L315.51,77.07 L314.56,77.12 L313.65,77.10 L312.80,76.99 L312.00,76.80 L311.28,76.51 L310.64,76.13 L310.05,75.66 L309.51,75.12 L308.99,74.50 L308.47,73.82 L307.95,73.08 L307.40,72.30 L306.83,71.31 L306.25,70.05 L305.68,68.64 L305.11,67.21 L304.54,65.89 L303.98,64.81 L303.43,64.11 L302.90,63.90 L302.37,64.29 L301.85,65.19 L301.33,66.46 L300.82,67.98 L300.33,69.59 L299.86,71.18 L299.42,72.59 L299.00,73.70 L298.64,74.56 L298.35,75.32 L298.09,76.00 L297.85,76.61 L297.60,77.15 L297.30,77.64 L296.95,78.08 L296.50,78.50 L295.96,78.87 L295.35,79.18 L294.68,79.44 L293.97,79.65 L293.23,79.82 L292.48,79.97 L291.73,80.09 L291.00,80.20 L290.27,80.33 L289.54,80.48 L288.79,80.63 L288.03,80.74 L287.27,80.79 L286.51,80.73 L285.75,80.55 L285.00,80.20 L284.23,79.63 L283.42,78.84 L282.59,77.89 L281.77,76.86 L280.99,75.80 L280.25,74.80 L279.58,73.91 L279.00,73.20 L278.56,72.71 L278.25,72.38 L278.03,72.16 L277.85,71.99 L277.66,71.81 L277.43,71.58 L277.09,71.23 L276.60,70.70 L275.97,69.83 L275.25,68.59 L274.44,67.15 L273.58,65.69 L272.66,64.39 L271.72,63.40 L270.76,62.92 L269.80,63.10 L268.81,64.15 L267.74,66.00 L266.64,68.39 L265.51,71.08 L264.40,73.82 L263.33,76.37 L262.32,78.48 L261.40,79.90 L260.60,80.62 L259.89,80.88 L259.26,80.77 L258.66,80.44 L258.06,79.98 L257.44,79.53 L256.76,79.20 L256.00,79.10 L255.15,79.23 L254.23,79.48 L253.27,79.80 L252.28,80.14 L251.27,80.47 L250.26,80.73 L249.26,80.89 L248.30,80.90 L247.36,80.76 L246.41,80.51 L245.48,80.18 L244.54,79.77 L243.62,79.31 L242.70,78.82 L241.79,78.31 L240.90,77.80 L240.02,77.21 L239.14,76.50 L238.28,75.72 L237.43,74.93 L236.58,74.19 L235.74,73.56 L234.92,73.11 L234.10,72.90 L233.28,72.99 L232.46,73.34 L231.65,73.88 L230.84,74.53 L230.06,75.21 L229.30,75.83 L228.58,76.32 L227.90,76.60 L227.29,76.59 L226.77,76.35 L226.29,75.97 L225.83,75.54 L225.36,75.15 L224.86,74.90 L224.28,74.89 L223.60,75.20 L222.81,75.98 L221.93,77.19 L220.99,78.68 L220.01,80.29 L219.00,81.86 L218.00,83.22 L217.03,84.22 L216.10,84.70 L215.17,84.58 L214.19,83.97 L213.20,83.01 L212.23,81.84 L211.32,80.60 L210.51,79.42 L209.82,78.44 L209.30,77.80Z" fill="#008000" stroke="#008000" stroke-width="3.2" stroke-linejoin="round"/>
<path d="M469.80,81.60 L470.20,89.80 L470.60,98.00 L471.18,98.35 L471.75,99.20 L472.32,100.05 L472.90,100.40 L473.40,100.30 L473.90,100.00 L474.40,99.51 L474.90,98.83 L475.40,97.96 L475.90,96.92 L476.40,95.73 L476.90,94.38 L477.40,92.90 L477.90,91.30 L478.40,89.60 L478.90,87.82 L479.40,85.98 L479.90,84.10 L480.40,82.20 L480.90,80.30 L481.40,78.42 L481.90,76.58 L482.40,74.80 L482.90,73.10 L483.40,71.50 L483.90,70.02 L484.40,68.67 L484.90,67.48 L485.40,66.44 L485.90,65.57 L486.40,64.89 L486.90,64.40 L487.40,64.10 L487.90,64.00 L488.41,64.10 L488.92,64.41 L489.42,64.93 L489.93,65.64 L490.44,66.54 L490.95,67.64 L491.46,68.91 L491.97,70.35 L492.47,71.95 L492.98,73.70 L493.49,75.58 L494.00,77.57 L494.51,79.68 L495.02,81.86 L495.52,84.12 L496.03,86.44 L496.54,88.78 L497.05,91.15 L497.56,93.52 L498.07,95.86 L498.57,98.18 L499.08,100.44 L499.59,102.62 L500.10,104.72 L500.61,106.72 L501.12,108.60 L501.62,110.35 L502.13,111.95 L502.64,113.39 L503.15,114.66 L503.66,115.76 L504.17,116.66 L504.68,117.37 L505.18,117.89 L505.69,118.20 L506.20,118.30 L506.70,118.21 L507.21,117.96 L507.71,117.53 L508.21,116.95 L508.72,116.20 L509.22,115.31 L509.72,114.29 L510.23,113.13 L510.73,111.87 L511.23,110.51 L511.74,109.07 L512.24,107.57 L512.74,106.02 L513.25,104.44 L513.75,102.86 L514.26,101.28 L514.76,99.73 L515.26,98.23 L515.77,96.79 L516.27,95.43 L516.77,94.17 L517.28,93.01 L517.78,91.99 L518.28,91.10 L518.79,90.35 L519.29,89.77 L519.79,89.34 L520.30,89.09 L520.80,89.00 L521.30,89.12 L521.80,89.48 L522.30,90.07 L522.80,90.89 L523.30,91.94 L523.80,93.20 L524.30,94.66 L524.80,96.32 L525.30,98.16 L525.80,100.16 L526.30,102.32 L526.80,104.60 L527.30,107.00 L527.80,109.49 L528.30,112.05 L528.80,114.67 L529.30,117.32 L529.80,119.98 L530.30,122.63 L530.80,125.25 L531.30,127.81 L531.80,130.30 L532.30,132.70 L532.80,134.98 L533.30,137.14 L533.80,139.14 L534.30,140.98 L534.80,142.64 L535.30,144.10 L535.80,145.36 L536.30,146.41 L536.80,147.23 L537.30,147.82 L537.80,148.18 L538.30,148.30 L538.81,148.21 L539.32,147.94 L539.83,147.50 L540.34,146.89 L540.86,146.11 L541.37,145.19 L541.88,144.13 L542.39,142.94 L542.90,141.65 L543.41,140.27 L543.92,138.81 L544.43,137.31 L544.94,135.77 L545.46,134.23 L545.97,132.69 L546.48,131.19 L546.99,129.73 L547.50,128.35 L548.01,127.06 L548.52,125.87 L549.03,124.81 L549.54,123.89 L550.06,123.11 L550.57,122.50 L551.08,122.06 L551.59,121.79 L552.10,121.70 L552.61,121.81 L553.12,122.15 L553.62,122.70 L554.13,123.47 L554.64,124.46 L555.15,125.64 L555.66,127.02 L556.16,128.59 L556.67,130.33 L557.18,132.24 L557.69,134.29 L558.20,136.47 L558.71,138.77 L559.21,141.17 L559.72,143.66 L560.23,146.21 L560.74,148.81 L561.25,151.43 L561.75,154.07 L562.26,156.69 L562.77,159.29 L563.28,161.84 L563.79,164.33 L564.29,166.73 L564.80,169.03 L565.31,171.21 L565.82,173.26 L566.33,175.17 L566.84,176.91 L567.34,178.48 L567.85,179.86 L568.36,181.04 L568.87,182.03 L569.38,182.80 L569.88,183.35 L570.39,183.69 L570.90,183.80 L571.41,183.67 L571.91,183.28 L572.42,182.64 L572.93,181.76 L573.43,180.63 L573.94,179.28 L574.45,177.73 L574.95,175.97 L575.46,174.05 L575.97,171.98 L576.47,169.77 L576.98,167.46 L577.49,165.07 L577.99,162.62 L578.50,160.15 L579.01,157.68 L579.51,155.23 L580.02,152.84 L580.53,150.53 L581.03,148.33 L581.54,146.25 L582.05,144.33 L582.55,142.57 L583.06,141.02 L583.57,139.67 L584.07,138.54 L584.58,137.66 L585.09,137.02 L585.59,136.63 L586.10,136.50 L586.61,136.63 L587.12,137.02 L587.62,137.66 L588.13,138.56 L588.64,139.69 L589.15,141.07 L589.66,142.67 L590.17,144.48 L590.67,146.49 L591.18,148.68 L591.69,151.04 L592.20,153.55 L592.71,156.19 L593.22,158.94 L593.73,161.77 L594.23,164.68 L594.74,167.63 L595.25,170.60 L595.76,173.57 L596.27,176.52 L596.77,179.43 L597.28,182.26 L597.79,185.01 L598.30,187.65 L598.81,190.16 L599.32,192.52 L599.83,194.71 L600.33,196.72 L600.84,198.53 L601.35,200.13 L601.86,201.51 L602.37,202.64 L602.88,203.54 L603.38,204.18 L603.89,204.57 L604.40,204.70 L604.90,204.57 L605.41,204.19 L605.91,203.55 L606.41,202.67 L606.92,201.55 L607.42,200.20 L607.92,198.63 L608.42,196.87 L608.93,194.92 L609.43,192.79 L609.93,190.53 L610.44,188.13 L610.94,185.62 L611.44,183.03 L611.95,180.38 L612.45,177.70 L612.95,175.00 L613.45,172.32 L613.96,169.67 L614.46,167.08 L614.96,164.57 L615.47,162.18 L615.97,159.91 L616.47,157.78 L616.98,155.83 L617.48,154.07 L617.98,152.50 L618.48,151.15 L618.99,150.03 L619.49,149.15 L619.99,148.51 L620.50,148.13 L621.00,148.00 L621.50,148.13 L622.00,148.50 L622.50,149.12 L623.00,149.99 L623.50,151.09 L624.00,152.42 L624.50,153.97 L625.00,155.72 L625.50,157.68 L626.00,159.81 L626.50,162.11 L627.00,164.55 L627.50,167.13 L628.00,169.82 L628.50,172.61 L629.00,175.47 L629.50,178.38 L630.00,181.32 L630.50,184.28 L631.00,187.22 L631.50,190.13 L632.00,192.99 L632.50,195.78 L633.00,198.47 L633.50,201.05 L634.00,203.49 L634.50,205.79 L635.00,207.92 L635.50,209.88 L636.00,211.63 L636.50,213.18 L637.00,214.51 L637.50,215.61 L638.00,216.48 L638.50,217.10 L639.00,217.47 L639.50,217.60 L640.01,217.43 L640.52,216.91 L641.03,216.05 L641.54,214.87 L642.05,213.37 L642.56,211.58 L643.08,209.52 L643.59,207.21 L644.10,204.68 L644.61,201.98 L645.12,199.12 L645.63,196.14 L646.14,193.09 L646.65,190.00 L647.16,186.91 L647.67,183.86 L648.18,180.88 L648.69,178.02 L649.20,175.32 L649.71,172.79 L650.22,170.48 L650.74,168.42 L651.25,166.63 L651.76,165.13 L652.27,163.95 L652.78,163.09 L653.29,162.57 L653.80,162.40 L654.32,162.52 L654.85,162.85 L655.38,163.36 L655.90,163.95 L656.42,164.54 L656.95,165.05 L657.48,165.38 L658.00,165.50" fill="none" stroke="#008000" stroke-width="2.6" stroke-linejoin="round" stroke-linecap="round" />
<line x1="470.18" y1="15.6" x2="470.18" y2="241.2" stroke="#0000ff" stroke-width="1.6" stroke-dasharray="5.9,5.15"/>
<line x1="637.76" y1="15.9" x2="637.76" y2="241.2" stroke="#0000ff" stroke-width="1.6" stroke-dasharray="5.9,5.15"/>
</g>
<g clip-path="url(#cb)">
<path d="M215.40,387.80 L215.68,388.11 L216.06,388.48 L216.51,388.92 L217.01,389.43 L217.54,390.02 L218.07,390.69 L218.60,391.45 L219.10,392.30 L219.58,393.42 L220.06,394.89 L220.55,396.55 L221.04,398.24 L221.54,399.81 L222.03,401.10 L222.52,401.94 L223.00,402.20 L223.48,401.81 L223.96,400.90 L224.43,399.59 L224.91,397.97 L225.38,396.18 L225.85,394.31 L226.33,392.48 L226.80,390.80 L227.28,389.07 L227.77,387.11 L228.26,385.03 L228.75,382.95 L229.23,381.00 L229.71,379.29 L230.16,377.95 L230.60,377.10 L230.99,376.92 L231.33,377.36 L231.65,378.24 L231.96,379.33 L232.28,380.42 L232.65,381.32 L233.08,381.82 L233.60,381.70 L234.22,380.81 L234.93,379.26 L235.70,377.30 L236.51,375.15 L237.33,373.03 L238.16,371.19 L238.95,369.83 L239.70,369.20 L240.41,369.36 L241.10,370.11 L241.78,371.30 L242.44,372.79 L243.10,374.41 L243.74,376.03 L244.38,377.47 L245.00,378.60 L245.60,379.41 L246.16,380.03 L246.71,380.55 L247.25,381.02 L247.80,381.53 L248.36,382.13 L248.96,382.90 L249.60,383.90 L250.30,385.31 L251.04,387.13 L251.81,389.18 L252.61,391.30 L253.41,393.31 L254.20,395.02 L254.97,396.28 L255.70,396.90 L256.41,396.71 L257.10,395.79 L257.78,394.37 L258.44,392.69 L259.10,390.96 L259.74,389.42 L260.38,388.29 L261.00,387.80 L261.60,388.19 L262.18,389.35 L262.74,390.97 L263.29,392.75 L263.85,394.39 L264.41,395.58 L264.99,396.02 L265.60,395.40 L266.24,393.59 L266.91,390.82 L267.61,387.34 L268.31,383.39 L269.01,379.23 L269.69,375.09 L270.36,371.23 L271.00,367.90 L271.59,364.75 L272.15,361.40 L272.68,358.04 L273.21,354.86 L273.73,352.03 L274.28,349.76 L274.87,348.22 L275.50,347.60 L276.20,348.16 L276.95,349.82 L277.75,352.29 L278.56,355.27 L279.37,358.47 L280.16,361.59 L280.91,364.33 L281.60,366.40 L282.24,367.85 L282.84,368.97 L283.41,369.86 L283.96,370.59 L284.48,371.27 L285.00,371.97 L285.50,372.79 L286.00,373.80 L286.49,375.00 L286.95,376.30 L287.40,377.68 L287.84,379.09 L288.27,380.53 L288.70,381.96 L289.15,383.36 L289.60,384.70 L290.06,386.09 L290.50,387.60 L290.94,389.15 L291.39,390.66 L291.86,392.04 L292.34,393.22 L292.85,394.10 L293.40,394.60 L294.01,394.62 L294.67,394.18 L295.37,393.43 L296.09,392.48 L296.81,391.46 L297.49,390.50 L298.13,389.74 L298.70,389.30 L299.19,389.34 L299.63,389.80 L300.03,390.50 L300.39,391.24 L300.74,391.84 L301.08,392.09 L301.43,391.81 L301.80,390.80 L302.18,388.93 L302.55,386.33 L302.91,383.19 L303.28,379.71 L303.65,376.09 L304.02,372.54 L304.41,369.24 L304.80,366.40 L305.20,363.77 L305.60,361.06 L306.01,358.39 L306.42,355.89 L306.85,353.69 L307.28,351.90 L307.73,350.67 L308.20,350.10 L308.68,350.33 L309.18,351.30 L309.70,352.84 L310.22,354.78 L310.76,356.97 L311.30,359.25 L311.85,361.44 L312.40,363.40 L312.97,365.31 L313.56,367.42 L314.17,369.63 L314.77,371.83 L315.37,373.93 L315.95,375.82 L316.50,377.41 L317.00,378.60 L317.44,379.26 L317.81,379.45 L318.14,379.31 L318.45,378.98 L318.77,378.59 L319.12,378.31 L319.52,378.26 L320.00,378.60 L320.56,379.44 L321.18,380.68 L321.85,382.18 L322.56,383.78 L323.28,385.29 L324.00,386.58 L324.71,387.47 L325.40,387.80 L326.06,387.61 L326.71,387.08 L327.36,386.23 L328.01,385.11 L328.66,383.74 L329.32,382.18 L330.00,380.45 L330.70,378.60 L331.43,376.44 L332.19,373.88 L332.96,371.03 L333.75,368.04 L334.54,365.04 L335.31,362.16 L336.07,359.54 L336.80,357.30 L337.50,355.30 L338.18,353.34 L338.84,351.50 L339.49,349.86 L340.14,348.47 L340.79,347.42 L341.44,346.77 L342.10,346.60 L342.78,346.99 L343.48,347.90 L344.19,349.23 L344.89,350.89 L345.59,352.77 L346.26,354.78 L346.90,356.83 L347.50,358.80 L348.06,360.96 L348.58,363.52 L349.08,366.29 L349.55,369.09 L350.00,371.76 L350.44,374.10 L350.87,375.94 L351.30,377.10 L351.70,377.35 L352.05,376.75 L352.38,375.59 L352.70,374.14 L353.03,372.68 L353.40,371.49 L353.82,370.83 L354.30,371.00 L354.87,372.15 L355.51,374.09 L356.21,376.56 L356.93,379.31 L357.66,382.06 L358.39,384.57 L359.07,386.57 L359.70,387.80 L360.26,388.13 L360.77,387.76 L361.24,386.90 L361.71,385.79 L362.17,384.63 L362.66,383.67 L363.20,383.12 L363.80,383.20 L364.47,384.05 L365.20,385.50 L365.98,387.35 L366.78,389.39 L367.58,391.43 L368.38,393.24 L369.16,394.64 L369.90,395.40 L370.61,395.51 L371.32,395.16 L372.01,394.45 L372.69,393.49 L373.36,392.39 L374.00,391.25 L374.61,390.19 L375.20,389.30 L375.74,388.46 L376.24,387.52 L376.70,386.54 L377.14,385.58 L377.58,384.70 L378.03,383.97 L378.50,383.45 L379.00,383.20 L379.52,383.44 L380.04,384.21 L380.57,385.28 L381.11,386.46 L381.67,387.51 L382.27,388.23 L382.91,388.40 L383.60,387.80 L384.37,386.17 L385.22,383.60 L386.12,380.40 L387.06,376.91 L387.99,373.44 L388.89,370.32 L389.74,367.87 L390.50,366.40 L391.17,365.87 L391.76,365.94 L392.29,366.52 L392.80,367.52 L393.30,368.86 L393.82,370.45 L394.38,372.19 L395.00,374.00 L395.70,376.21 L396.45,379.06 L397.24,382.29 L398.04,385.65 L398.85,388.89 L399.64,391.77 L400.40,394.02 L401.10,395.40 L401.74,395.73 L402.32,395.18 L402.87,394.01 L403.40,392.46 L403.93,390.81 L404.48,389.31 L405.06,388.22 L405.70,387.80 L406.39,388.20 L407.10,389.24 L407.84,390.67 L408.61,392.27 L409.39,393.78 L410.18,394.96 L410.99,395.59 L411.80,395.40 L412.64,394.11 L413.51,391.83 L414.40,388.90 L415.30,385.68 L416.19,382.54 L417.07,379.82 L417.91,377.89 L418.70,377.10 L419.45,377.56 L420.19,378.99 L420.91,381.13 L421.59,383.73 L422.25,386.55 L422.87,389.33 L423.46,391.83 L424.00,393.80 L424.47,395.50 L424.87,397.27 L425.22,399.01 L425.54,400.59 L425.86,401.89 L426.19,402.81 L426.56,403.22 L427.00,403.00 L427.49,402.00 L428.02,400.25 L428.58,397.95 L429.16,395.28 L429.75,392.43 L430.36,389.60 L430.98,386.96 L431.60,384.70 L432.23,382.63 L432.88,380.49 L433.54,378.36 L434.21,376.32 L434.88,374.49 L435.56,372.93 L436.23,371.73 L436.90,371.00 L437.57,370.84 L438.26,371.22 L438.95,372.00 L439.64,373.05 L440.32,374.22 L440.98,375.38 L441.61,376.38 L442.20,377.10 L442.74,377.60 L443.24,378.03 L443.70,378.41 L444.14,378.73 L444.58,378.99 L445.03,379.19 L445.50,379.33 L446.00,379.40 L446.54,379.31 L447.11,379.00 L447.70,378.58 L448.30,378.12 L448.90,377.72 L449.49,377.48 L450.06,377.47 L450.60,377.80 L451.12,378.51 L451.62,379.52 L452.12,380.78 L452.60,382.18 L453.07,383.66 L453.52,385.15 L453.97,386.55 L454.40,387.80 L454.79,388.98 L455.13,390.21 L455.45,391.43 L455.76,392.62 L456.08,393.72 L456.45,394.70 L456.88,395.50 L457.40,396.10 L458.02,396.45 L458.72,396.60 L459.49,396.57 L460.30,396.41 L461.13,396.18 L461.95,395.90 L462.75,395.63 L463.50,395.40 L464.22,395.14 L464.93,394.76 L465.64,394.32 L466.33,393.88 L467.01,393.48 L467.66,393.18 L468.30,393.03 L468.90,393.10 L469.49,393.44 L470.09,394.01 L470.68,394.76 L471.24,395.61 L471.75,396.47 L472.21,397.27 L472.60,397.94 L472.90,398.40 L472.90,404.80 L472.60,404.34 L472.21,403.67 L471.75,402.87 L471.24,402.01 L470.68,401.16 L470.09,400.41 L469.49,399.84 L468.90,399.50 L468.30,399.43 L467.66,399.58 L467.01,399.88 L466.33,400.28 L465.64,400.72 L464.93,401.16 L464.22,401.54 L463.50,401.80 L462.75,402.03 L461.95,402.30 L461.13,402.58 L460.30,402.81 L459.49,402.97 L458.72,403.00 L458.02,402.85 L457.40,402.50 L456.88,401.90 L456.45,401.10 L456.08,400.12 L455.76,399.02 L455.45,397.83 L455.13,396.61 L454.79,395.38 L454.40,394.20 L453.97,392.95 L453.52,391.55 L453.07,390.06 L452.60,388.58 L452.12,387.18 L451.62,385.92 L451.12,384.91 L450.60,384.20 L450.06,383.87 L449.49,383.88 L448.90,384.12 L448.30,384.52 L447.70,384.98 L447.11,385.40 L446.54,385.71 L446.00,385.80 L445.50,385.73 L445.03,385.59 L444.58,385.39 L444.14,385.13 L443.70,384.81 L443.24,384.43 L442.74,384.00 L442.20,383.50 L441.61,382.78 L440.98,381.78 L440.32,380.62 L439.64,379.45 L438.95,378.40 L438.26,377.62 L437.57,377.24 L436.90,377.40 L436.23,378.13 L435.56,379.32 L434.88,380.89 L434.21,382.72 L433.54,384.76 L432.88,386.89 L432.23,389.03 L431.60,391.10 L430.98,393.36 L430.36,396.00 L429.75,398.83 L429.16,401.68 L428.58,404.35 L428.02,406.65 L427.49,408.40 L427.00,409.40 L426.56,409.62 L426.19,409.21 L425.86,408.29 L425.54,406.99 L425.22,405.41 L424.87,403.67 L424.47,401.90 L424.00,400.20 L423.46,398.23 L422.87,395.73 L422.25,392.95 L421.59,390.13 L420.91,387.53 L420.19,385.39 L419.45,383.96 L418.70,383.50 L417.91,384.29 L417.07,386.22 L416.19,388.94 L415.30,392.08 L414.40,395.30 L413.51,398.23 L412.64,400.51 L411.80,401.80 L410.99,401.99 L410.18,401.36 L409.39,400.18 L408.61,398.67 L407.84,397.07 L407.10,395.64 L406.39,394.60 L405.70,394.20 L405.06,394.62 L404.48,395.71 L403.93,397.21 L403.40,398.86 L402.87,400.41 L402.32,401.58 L401.74,402.13 L401.10,401.80 L400.40,400.42 L399.64,398.17 L398.85,395.29 L398.04,392.05 L397.24,388.69 L396.45,385.46 L395.70,382.61 L395.00,380.40 L394.38,378.59 L393.82,376.85 L393.30,375.26 L392.80,373.92 L392.29,372.92 L391.76,372.34 L391.17,372.27 L390.50,372.80 L389.74,374.27 L388.89,376.72 L387.99,379.84 L387.06,383.31 L386.12,386.80 L385.22,390.00 L384.37,392.57 L383.60,394.20 L382.91,394.80 L382.27,394.63 L381.67,393.91 L381.11,392.86 L380.57,391.68 L380.04,390.61 L379.52,389.84 L379.00,389.60 L378.50,389.85 L378.03,390.37 L377.58,391.10 L377.14,391.98 L376.70,392.94 L376.24,393.92 L375.74,394.86 L375.20,395.70 L374.61,396.59 L374.00,397.65 L373.36,398.79 L372.69,399.89 L372.01,400.85 L371.32,401.56 L370.61,401.91 L369.90,401.80 L369.16,401.04 L368.38,399.64 L367.58,397.83 L366.78,395.79 L365.98,393.75 L365.20,391.90 L364.47,390.45 L363.80,389.60 L363.20,389.52 L362.66,390.07 L362.17,391.03 L361.71,392.19 L361.24,393.30 L360.77,394.16 L360.26,394.53 L359.70,394.20 L359.07,392.97 L358.39,390.97 L357.66,388.46 L356.93,385.71 L356.21,382.96 L355.51,380.49 L354.87,378.55 L354.30,377.40 L353.82,377.23 L353.40,377.89 L353.03,379.08 L352.70,380.54 L352.38,381.99 L352.05,383.15 L351.70,383.75 L351.30,383.50 L350.87,382.34 L350.44,380.50 L350.00,378.16 L349.55,375.49 L349.08,372.69 L348.58,369.92 L348.06,367.36 L347.50,365.20 L346.90,363.23 L346.26,361.18 L345.59,359.17 L344.89,357.29 L344.19,355.63 L343.48,354.30 L342.78,353.39 L342.10,353.00 L341.44,353.17 L340.79,353.82 L340.14,354.87 L339.49,356.26 L338.84,357.90 L338.18,359.74 L337.50,361.70 L336.80,363.70 L336.07,365.94 L335.31,368.56 L334.54,371.44 L333.75,374.44 L332.96,377.43 L332.19,380.28 L331.43,382.84 L330.70,385.00 L330.00,386.85 L329.32,388.58 L328.66,390.14 L328.01,391.51 L327.36,392.63 L326.71,393.48 L326.06,394.01 L325.40,394.20 L324.71,393.87 L324.00,392.98 L323.28,391.69 L322.56,390.18 L321.85,388.58 L321.18,387.08 L320.56,385.84 L320.00,385.00 L319.52,384.66 L319.12,384.71 L318.77,384.99 L318.45,385.38 L318.14,385.71 L317.81,385.85 L317.44,385.66 L317.00,385.00 L316.50,383.81 L315.95,382.22 L315.37,380.33 L314.77,378.23 L314.17,376.03 L313.56,373.82 L312.97,371.71 L312.40,369.80 L311.85,367.84 L311.30,365.65 L310.76,363.37 L310.22,361.18 L309.70,359.24 L309.18,357.70 L308.68,356.73 L308.20,356.50 L307.73,357.07 L307.28,358.30 L306.85,360.09 L306.42,362.29 L306.01,364.79 L305.60,367.46 L305.20,370.17 L304.80,372.80 L304.41,375.64 L304.02,378.94 L303.65,382.49 L303.28,386.11 L302.91,389.59 L302.55,392.73 L302.18,395.33 L301.80,397.20 L301.43,398.21 L301.08,398.49 L300.74,398.24 L300.39,397.64 L300.03,396.90 L299.63,396.20 L299.19,395.74 L298.70,395.70 L298.13,396.14 L297.49,396.90 L296.81,397.86 L296.09,398.88 L295.37,399.83 L294.67,400.58 L294.01,401.02 L293.40,401.00 L292.85,400.50 L292.34,399.62 L291.86,398.44 L291.39,397.06 L290.94,395.55 L290.50,394.00 L290.06,392.49 L289.60,391.10 L289.15,389.76 L288.70,388.36 L288.27,386.93 L287.84,385.49 L287.40,384.08 L286.95,382.70 L286.49,381.40 L286.00,380.20 L285.50,379.19 L285.00,378.37 L284.48,377.67 L283.96,376.99 L283.41,376.26 L282.84,375.37 L282.24,374.25 L281.60,372.80 L280.91,370.73 L280.16,367.99 L279.37,364.87 L278.56,361.67 L277.75,358.69 L276.95,356.22 L276.20,354.56 L275.50,354.00 L274.87,354.62 L274.28,356.16 L273.73,358.43 L273.21,361.26 L272.68,364.44 L272.15,367.80 L271.59,371.15 L271.00,374.30 L270.36,377.63 L269.69,381.49 L269.01,385.63 L268.31,389.79 L267.61,393.74 L266.91,397.22 L266.24,399.99 L265.60,401.80 L264.99,402.42 L264.41,401.98 L263.85,400.79 L263.29,399.15 L262.74,397.37 L262.18,395.75 L261.60,394.59 L261.00,394.20 L260.38,394.69 L259.74,395.82 L259.10,397.36 L258.44,399.09 L257.78,400.77 L257.10,402.19 L256.41,403.11 L255.70,403.30 L254.97,402.68 L254.20,401.42 L253.41,399.71 L252.61,397.70 L251.81,395.58 L251.04,393.53 L250.30,391.71 L249.60,390.30 L248.96,389.30 L248.36,388.53 L247.80,387.93 L247.25,387.42 L246.71,386.95 L246.16,386.43 L245.60,385.81 L245.00,385.00 L244.38,383.87 L243.74,382.43 L243.10,380.81 L242.44,379.19 L241.78,377.70 L241.10,376.51 L240.41,375.76 L239.70,375.60 L238.95,376.23 L238.16,377.59 L237.33,379.43 L236.51,381.55 L235.70,383.70 L234.93,385.66 L234.22,387.21 L233.60,388.10 L233.08,388.22 L232.65,387.72 L232.28,386.82 L231.96,385.73 L231.65,384.64 L231.33,383.76 L230.99,383.32 L230.60,383.50 L230.16,384.35 L229.71,385.69 L229.23,387.40 L228.75,389.35 L228.26,391.43 L227.77,393.51 L227.28,395.47 L226.80,397.20 L226.33,398.88 L225.85,400.71 L225.38,402.58 L224.91,404.37 L224.43,405.99 L223.96,407.30 L223.48,408.21 L223.00,408.60 L222.52,408.34 L222.03,407.50 L221.54,406.21 L221.04,404.64 L220.55,402.95 L220.06,401.29 L219.58,399.82 L219.10,398.70 L218.60,397.85 L218.07,397.09 L217.54,396.42 L217.01,395.83 L216.51,395.32 L216.06,394.88 L215.68,394.51 L215.40,394.20Z" fill="#ff0000" stroke="#ff0000" stroke-width="2.8" stroke-linejoin="round"/>
<path d="M472.90,391.80 L473.47,393.55 L474.05,396.10 L474.62,398.65 L475.20,400.40 L475.71,398.48 L476.22,396.34 L476.74,393.98 L477.25,391.41 L477.76,388.63 L478.27,385.66 L478.78,382.50 L479.30,379.17 L479.81,375.68 L480.32,372.04 L480.83,368.27 L481.35,364.40 L481.86,360.43 L482.37,356.39 L482.88,352.29 L483.39,348.17 L483.91,344.03 L484.42,339.91 L484.93,335.81 L485.44,331.77 L485.95,327.80 L486.47,323.93 L486.98,320.16 L487.49,316.52 L488.00,313.03 L488.52,309.70 L489.03,306.54 L489.54,303.57 L490.05,300.79 L490.56,298.22 L491.08,295.86 L491.59,293.72 L492.10,291.80 L492.61,293.73 L493.12,295.88 L493.63,298.23 L494.13,300.79 L494.64,303.54 L495.15,306.48 L495.66,309.61 L496.17,312.90 L496.68,316.35 L497.19,319.95 L497.69,323.68 L498.20,327.53 L498.71,331.48 L499.22,335.50 L499.73,339.60 L500.24,343.74 L500.75,347.91 L501.25,352.09 L501.76,356.26 L502.27,360.40 L502.78,364.50 L503.29,368.52 L503.80,372.47 L504.31,376.32 L504.81,380.05 L505.32,383.65 L505.83,387.10 L506.34,390.39 L506.85,393.52 L507.36,396.46 L507.87,399.21 L508.37,401.77 L508.88,404.12 L509.39,406.27 L509.90,408.20 L510.41,406.49 L510.91,404.54 L511.42,402.38 L511.93,399.99 L512.44,397.40 L512.94,394.61 L513.45,391.64 L513.96,388.51 L514.46,385.24 L514.97,381.84 L515.48,378.35 L515.99,374.77 L516.49,371.15 L517.00,367.50 L517.51,363.85 L518.01,360.23 L518.52,356.65 L519.03,353.16 L519.54,349.76 L520.04,346.49 L520.55,343.36 L521.06,340.39 L521.56,337.60 L522.07,335.01 L522.58,332.62 L523.09,330.46 L523.59,328.51 L524.10,326.80 L524.61,328.65 L525.12,330.70 L525.63,332.96 L526.14,335.41 L526.64,338.06 L527.15,340.90 L527.66,343.91 L528.17,347.08 L528.68,350.41 L529.19,353.88 L529.70,357.47 L530.21,361.17 L530.71,364.96 L531.22,368.83 L531.73,372.76 L532.24,376.72 L532.75,380.70 L533.26,384.68 L533.77,388.64 L534.28,392.57 L534.79,396.44 L535.29,400.23 L535.80,403.93 L536.31,407.52 L536.82,410.99 L537.33,414.32 L537.84,417.49 L538.35,420.50 L538.86,423.34 L539.36,425.99 L539.87,428.44 L540.38,430.70 L540.89,432.75 L541.40,434.60 L541.90,433.34 L542.40,431.90 L542.90,430.30 L543.40,428.53 L543.90,426.60 L544.40,424.53 L544.90,422.32 L545.40,419.99 L545.90,417.56 L546.40,415.04 L546.90,412.45 L547.40,409.81 L547.90,407.14 L548.40,404.46 L548.90,401.79 L549.40,399.15 L549.90,396.56 L550.40,394.04 L550.90,391.61 L551.40,389.28 L551.90,387.07 L552.40,385.00 L552.90,383.07 L553.40,381.30 L553.90,379.70 L554.40,378.26 L554.90,377.00 L555.40,378.68 L555.90,380.55 L556.40,382.60 L556.90,384.83 L557.40,387.24 L557.90,389.81 L558.40,392.55 L558.90,395.44 L559.40,398.46 L559.90,401.61 L560.40,404.88 L560.90,408.24 L561.40,411.69 L561.90,415.21 L562.40,418.78 L562.90,422.38 L563.40,426.00 L563.90,429.62 L564.40,433.22 L564.90,436.79 L565.40,440.31 L565.90,443.76 L566.40,447.12 L566.90,450.39 L567.40,453.54 L567.90,456.56 L568.40,459.45 L568.90,462.19 L569.40,464.76 L569.90,467.17 L570.40,469.40 L570.90,471.45 L571.40,473.32 L571.90,475.00 L572.41,472.98 L572.92,470.72 L573.43,468.23 L573.94,465.51 L574.45,462.57 L574.96,459.41 L575.47,456.06 L575.98,452.52 L576.48,448.82 L576.99,444.96 L577.50,440.97 L578.01,436.86 L578.52,432.66 L579.03,428.40 L579.54,424.09 L580.05,419.75 L580.56,415.41 L581.07,411.10 L581.58,406.84 L582.09,402.64 L582.60,398.53 L583.11,394.54 L583.62,390.68 L584.12,386.98 L584.63,383.44 L585.14,380.09 L585.65,376.93 L586.16,373.99 L586.67,371.27 L587.18,368.78 L587.69,366.52 L588.20,364.50 L588.71,366.48 L589.22,368.70 L589.74,371.13 L590.25,373.79 L590.76,376.66 L591.27,379.73 L591.78,382.99 L592.30,386.43 L592.81,390.04 L593.32,393.80 L593.83,397.69 L594.35,401.70 L594.86,405.80 L595.37,409.97 L595.88,414.20 L596.39,418.46 L596.91,422.74 L597.42,427.00 L597.93,431.23 L598.44,435.40 L598.95,439.50 L599.47,443.51 L599.98,447.40 L600.49,451.16 L601.00,454.77 L601.52,458.21 L602.03,461.47 L602.54,464.54 L603.05,467.41 L603.56,470.07 L604.08,472.50 L604.59,474.72 L605.10,476.70 L605.61,474.36 L606.12,471.77 L606.63,468.92 L607.13,465.83 L607.64,462.50 L608.15,458.94 L608.66,455.16 L609.17,451.18 L609.68,447.00 L610.19,442.65 L610.69,438.13 L611.20,433.48 L611.71,428.71 L612.22,423.83 L612.73,418.88 L613.24,413.87 L613.75,408.83 L614.25,403.77 L614.76,398.73 L615.27,393.72 L615.78,388.77 L616.29,383.89 L616.80,379.12 L617.31,374.47 L617.81,369.95 L618.32,365.60 L618.83,361.42 L619.34,357.44 L619.85,353.66 L620.36,350.10 L620.87,346.77 L621.37,343.68 L621.88,340.83 L622.39,338.24 L622.90,335.90 L623.41,338.04 L623.93,340.44 L624.44,343.11 L624.95,346.03 L625.47,349.20 L625.98,352.60 L626.49,356.22 L627.01,360.05 L627.52,364.05 L628.03,368.21 L628.55,372.50 L629.06,376.90 L629.57,381.39 L630.09,385.93 L630.60,390.50 L631.11,395.07 L631.63,399.61 L632.14,404.10 L632.65,408.50 L633.17,412.80 L633.68,416.95 L634.19,420.95 L634.71,424.78 L635.22,428.40 L635.73,431.80 L636.25,434.97 L636.76,437.89 L637.27,440.56 L637.79,442.96 L638.30,445.10 L638.30,447.50 L637.79,445.36 L637.27,442.96 L636.76,440.29 L636.25,437.37 L635.73,434.20 L635.22,430.80 L634.71,427.18 L634.19,423.35 L633.68,419.35 L633.17,415.19 L632.65,410.90 L632.14,406.50 L631.63,402.01 L631.11,397.47 L630.60,392.90 L630.09,388.33 L629.57,383.79 L629.06,379.30 L628.55,374.90 L628.03,370.61 L627.52,366.45 L627.01,362.45 L626.49,358.62 L625.98,355.00 L625.47,351.60 L624.95,348.43 L624.44,345.51 L623.93,342.84 L623.41,340.44 L622.90,338.30 L622.39,340.64 L621.88,343.23 L621.37,346.08 L620.87,349.17 L620.36,352.50 L619.85,356.06 L619.34,359.84 L618.83,363.82 L618.32,368.00 L617.81,372.35 L617.31,376.87 L616.80,381.52 L616.29,386.29 L615.78,391.17 L615.27,396.12 L614.76,401.13 L614.25,406.17 L613.75,411.23 L613.24,416.27 L612.73,421.28 L612.22,426.23 L611.71,431.11 L611.20,435.88 L610.69,440.53 L610.19,445.05 L609.68,449.40 L609.17,453.58 L608.66,457.56 L608.15,461.34 L607.64,464.90 L607.13,468.23 L606.63,471.32 L606.12,474.17 L605.61,476.76 L605.10,479.10 L604.59,477.12 L604.08,474.90 L603.56,472.47 L603.05,469.81 L602.54,466.94 L602.03,463.87 L601.52,460.61 L601.00,457.17 L600.49,453.56 L599.98,449.80 L599.47,445.91 L598.95,441.90 L598.44,437.80 L597.93,433.63 L597.42,429.40 L596.91,425.14 L596.39,420.86 L595.88,416.60 L595.37,412.37 L594.86,408.20 L594.35,404.10 L593.83,400.09 L593.32,396.20 L592.81,392.44 L592.30,388.83 L591.78,385.39 L591.27,382.13 L590.76,379.06 L590.25,376.19 L589.74,373.53 L589.22,371.10 L588.71,368.88 L588.20,366.90 L587.69,368.92 L587.18,371.18 L586.67,373.67 L586.16,376.39 L585.65,379.33 L585.14,382.49 L584.63,385.84 L584.12,389.38 L583.62,393.08 L583.11,396.94 L582.60,400.93 L582.09,405.04 L581.58,409.24 L581.07,413.50 L580.56,417.81 L580.05,422.15 L579.54,426.49 L579.03,430.80 L578.52,435.06 L578.01,439.26 L577.50,443.37 L576.99,447.36 L576.48,451.22 L575.98,454.92 L575.47,458.46 L574.96,461.81 L574.45,464.97 L573.94,467.91 L573.43,470.63 L572.92,473.12 L572.41,475.38 L571.90,477.40 L571.40,475.72 L570.90,473.85 L570.40,471.80 L569.90,469.57 L569.40,467.16 L568.90,464.59 L568.40,461.85 L567.90,458.96 L567.40,455.94 L566.90,452.79 L566.40,449.52 L565.90,446.16 L565.40,442.71 L564.90,439.19 L564.40,435.62 L563.90,432.02 L563.40,428.40 L562.90,424.78 L562.40,421.18 L561.90,417.61 L561.40,414.09 L560.90,410.64 L560.40,407.28 L559.90,404.01 L559.40,400.86 L558.90,397.84 L558.40,394.95 L557.90,392.21 L557.40,389.64 L556.90,387.23 L556.40,385.00 L555.90,382.95 L555.40,381.08 L554.90,379.40 L554.40,380.66 L553.90,382.10 L553.40,383.70 L552.90,385.47 L552.40,387.40 L551.90,389.47 L551.40,391.68 L550.90,394.01 L550.40,396.44 L549.90,398.96 L549.40,401.55 L548.90,404.19 L548.40,406.86 L547.90,409.54 L547.40,412.21 L546.90,414.85 L546.40,417.44 L545.90,419.96 L545.40,422.39 L544.90,424.72 L544.40,426.93 L543.90,429.00 L543.40,430.93 L542.90,432.70 L542.40,434.30 L541.90,435.74 L541.40,437.00 L540.89,435.15 L540.38,433.10 L539.87,430.84 L539.36,428.39 L538.86,425.74 L538.35,422.90 L537.84,419.89 L537.33,416.72 L536.82,413.39 L536.31,409.92 L535.80,406.33 L535.29,402.63 L534.79,398.84 L534.28,394.97 L533.77,391.04 L533.26,387.08 L532.75,383.10 L532.24,379.12 L531.73,375.16 L531.22,371.23 L530.71,367.36 L530.21,363.57 L529.70,359.87 L529.19,356.28 L528.68,352.81 L528.17,349.48 L527.66,346.31 L527.15,343.30 L526.64,340.46 L526.14,337.81 L525.63,335.36 L525.12,333.10 L524.61,331.05 L524.10,329.20 L523.59,330.91 L523.09,332.86 L522.58,335.02 L522.07,337.41 L521.56,340.00 L521.06,342.79 L520.55,345.76 L520.04,348.89 L519.54,352.16 L519.03,355.56 L518.52,359.05 L518.01,362.63 L517.51,366.25 L517.00,369.90 L516.49,373.55 L515.99,377.17 L515.48,380.75 L514.97,384.24 L514.46,387.64 L513.96,390.91 L513.45,394.04 L512.94,397.01 L512.44,399.80 L511.93,402.39 L511.42,404.78 L510.91,406.94 L510.41,408.89 L509.90,410.60 L509.39,408.67 L508.88,406.52 L508.37,404.17 L507.87,401.61 L507.36,398.86 L506.85,395.92 L506.34,392.79 L505.83,389.50 L505.32,386.05 L504.81,382.45 L504.31,378.72 L503.80,374.87 L503.29,370.92 L502.78,366.90 L502.27,362.80 L501.76,358.66 L501.25,354.49 L500.75,350.31 L500.24,346.14 L499.73,342.00 L499.22,337.90 L498.71,333.88 L498.20,329.93 L497.69,326.08 L497.19,322.35 L496.68,318.75 L496.17,315.30 L495.66,312.01 L495.15,308.88 L494.64,305.94 L494.13,303.19 L493.63,300.63 L493.12,298.28 L492.61,296.13 L492.10,294.20 L491.59,296.12 L491.08,298.26 L490.56,300.62 L490.05,303.19 L489.54,305.97 L489.03,308.94 L488.52,312.10 L488.00,315.43 L487.49,318.92 L486.98,322.56 L486.47,326.33 L485.95,330.20 L485.44,334.17 L484.93,338.21 L484.42,342.31 L483.91,346.43 L483.39,350.57 L482.88,354.69 L482.37,358.79 L481.86,362.83 L481.35,366.80 L480.83,370.67 L480.32,374.44 L479.81,378.08 L479.30,381.57 L478.78,384.90 L478.27,388.06 L477.76,391.03 L477.25,393.81 L476.74,396.38 L476.22,398.74 L475.71,400.88 L475.20,402.80 L474.62,401.05 L474.05,398.50 L473.47,395.95 L472.90,394.20Z" fill="#0000ff" stroke="#0000ff" stroke-width="3.3" stroke-linejoin="round"/>
<line x1="638.6" y1="440" x2="638.6" y2="352" stroke="#ff0000" stroke-width="2.2"/>
<path d="M638.60,350.00 L638.93,350.71 L639.36,351.77 L639.88,353.03 L640.45,354.38 L641.07,355.67 L641.71,356.80 L642.36,357.62 L643.00,358.00 L643.65,357.85 L644.36,357.25 L645.09,356.34 L645.83,355.25 L646.57,354.13 L647.29,353.12 L647.97,352.37 L648.60,352.00 L649.18,351.95 L649.73,352.06 L650.25,352.33 L650.74,352.75 L651.21,353.33 L651.66,354.06 L652.09,354.95 L652.50,356.00 L652.88,357.20 L653.22,358.56 L653.53,360.08 L653.82,361.75 L654.10,363.58 L654.39,365.56 L654.68,367.70 L655.00,370.00 L655.35,372.69 L655.74,375.86 L656.15,379.32 L656.56,382.88 L656.94,386.32 L657.29,389.45 L657.58,392.08 L657.80,394.00 L657.80,398.00 L657.58,396.08 L657.29,393.45 L656.94,390.32 L656.56,386.88 L656.15,383.32 L655.74,379.86 L655.35,376.69 L655.00,374.00 L654.68,371.70 L654.39,369.56 L654.10,367.58 L653.82,365.75 L653.53,364.08 L653.22,362.56 L652.88,361.20 L652.50,360.00 L652.09,358.95 L651.66,358.06 L651.21,357.33 L650.74,356.75 L650.25,356.33 L649.73,356.06 L649.18,355.95 L648.60,356.00 L647.97,356.37 L647.29,357.12 L646.57,358.13 L645.83,359.25 L645.09,360.34 L644.36,361.25 L643.65,361.85 L643.00,362.00 L642.36,361.62 L641.71,360.80 L641.07,359.67 L640.45,358.38 L639.88,357.03 L639.36,355.77 L638.93,354.71 L638.60,354.00Z" fill="#ff0000" stroke="#ff0000" stroke-width="3.0" stroke-linejoin="round"/>
<line x1="473.10" y1="272.85" x2="473.10" y2="497.4" stroke="#0000ff" stroke-width="1.5" stroke-dasharray="5.7,5.3"/>
<line x1="638.70" y1="272.85" x2="638.70" y2="497.4" stroke="#0000ff" stroke-width="1.5" stroke-dasharray="5.7,5.3"/>
</g>
<line x1="209.0" y1="22.5" x2="656.88" y2="22.5" stroke="#d2d2d2" stroke-width="1.2"/>
<line x1="656.38" y1="22.0" x2="656.38" y2="231.7" stroke="#8c8c8c" stroke-width="1.1"/>
<line x1="209.0" y1="231.2" x2="656.88" y2="231.2" stroke="#8c8c8c" stroke-width="1.1"/>
<line x1="209.5" y1="22.0" x2="209.5" y2="231.7" stroke="#8c8c8c" stroke-width="1.1"/>
<line x1="209.50" y1="231.2" x2="209.50" y2="226.7" stroke="#8c8c8c" stroke-width="1.1"/>
<line x1="209.50" y1="22.5" x2="209.50" y2="27.0" stroke="#8c8c8c" stroke-width="1.1"/>
<text transform="translate(209.50,247.90) scale(1.0,1.07)" text-anchor="middle" font-size="12.5">0</text>
<line x1="246.74" y1="231.2" x2="246.74" y2="226.7" stroke="#8c8c8c" stroke-width="1.1"/>
<line x1="246.74" y1="22.5" x2="246.74" y2="27.0" stroke="#8c8c8c" stroke-width="1.1"/>
<text transform="translate(246.74,247.90) scale(1.0,1.07)" text-anchor="middle" font-size="12.5">2</text>
<line x1="283.98" y1="231.2" x2="283.98" y2="226.7" stroke="#8c8c8c" stroke-width="1.1"/>
<line x1="283.98" y1="22.5" x2="283.98" y2="27.0" stroke="#8c8c8c" stroke-width="1.1"/>
<text transform="translate(283.98,247.90) scale(1.0,1.07)" text-anchor="middle" font-size="12.5">4</text>
<line x1="321.22" y1="231.2" x2="321.22" y2="226.7" stroke="#8c8c8c" stroke-width="1.1"/>
<line x1="321.22" y1="22.5" x2="321.22" y2="27.0" stroke="#8c8c8c" stroke-width="1.1"/>
<text transform="translate(321.22,247.90) scale(1.0,1.07)" text-anchor="middle" font-size="12.5">6</text>
<line x1="358.46" y1="231.2" x2="358.46" y2="226.7" stroke="#8c8c8c" stroke-width="1.1"/>
<line x1="358.46" y1="22.5" x2="358.46" y2="27.0" stroke="#8c8c8c" stroke-width="1.1"/>
<text transform="translate(358.46,247.90) scale(1.0,1.07)" text-anchor="middle" font-size="12.5">8</text>
<line x1="395.70" y1="231.2" x2="395.70" y2="226.7" stroke="#8c8c8c" stroke-width="1.1"/>
<line x1="395.70" y1="22.5" x2="395.70" y2="27.0" stroke="#8c8c8c" stroke-width="1.1"/>
<text transform="translate(395.70,247.90) scale(1.0,1.07)" text-anchor="middle" font-size="12.5">10</text>
<line x1="432.94" y1="231.2" x2="432.94" y2="226.7" stroke="#8c8c8c" stroke-width="1.1"/>
<line x1="432.94" y1="22.5" x2="432.94" y2="27.0" stroke="#8c8c8c" stroke-width="1.1"/>
<text transform="translate(432.94,247.90) scale(1.0,1.07)" text-anchor="middle" font-size="12.5">12</text>
<line x1="470.18" y1="231.2" x2="470.18" y2="226.7" stroke="#8c8c8c" stroke-width="1.1"/>
<line x1="470.18" y1="22.5" x2="470.18" y2="27.0" stroke="#8c8c8c" stroke-width="1.1"/>
<text transform="translate(470.18,247.90) scale(1.0,1.07)" text-anchor="middle" font-size="12.5">14</text>
<line x1="507.42" y1="231.2" x2="507.42" y2="226.7" stroke="#8c8c8c" stroke-width="1.1"/>
<line x1="507.42" y1="22.5" x2="507.42" y2="27.0" stroke="#8c8c8c" stroke-width="1.1"/>
<text transform="translate(507.42,247.90) scale(1.0,1.07)" text-anchor="middle" font-size="12.5">16</text>
<line x1="544.66" y1="231.2" x2="544.66" y2="226.7" stroke="#8c8c8c" stroke-width="1.1"/>
<line x1="544.66" y1="22.5" x2="544.66" y2="27.0" stroke="#8c8c8c" stroke-width="1.1"/>
<text transform="translate(544.66,247.90) scale(1.0,1.07)" text-anchor="middle" font-size="12.5">18</text>
<line x1="581.90" y1="231.2" x2="581.90" y2="226.7" stroke="#8c8c8c" stroke-width="1.1"/>
<line x1="581.90" y1="22.5" x2="581.90" y2="27.0" stroke="#8c8c8c" stroke-width="1.1"/>
<text transform="translate(581.90,247.90) scale(1.0,1.07)" text-anchor="middle" font-size="12.5">20</text>
<line x1="619.14" y1="231.2" x2="619.14" y2="226.7" stroke="#8c8c8c" stroke-width="1.1"/>
<line x1="619.14" y1="22.5" x2="619.14" y2="27.0" stroke="#8c8c8c" stroke-width="1.1"/>
<text transform="translate(619.14,247.90) scale(1.0,1.07)" text-anchor="middle" font-size="12.5">22</text>
<line x1="656.38" y1="231.2" x2="656.38" y2="226.7" stroke="#8c8c8c" stroke-width="1.1"/>
<line x1="656.38" y1="22.5" x2="656.38" y2="27.0" stroke="#8c8c8c" stroke-width="1.1"/>
<text transform="translate(656.38,247.90) scale(1.0,1.07)" text-anchor="middle" font-size="12.5">24</text>
<line x1="209.5" y1="39.70" x2="214.0" y2="39.70" stroke="#8c8c8c" stroke-width="1.1"/>
<line x1="656.38" y1="39.70" x2="651.88" y2="39.70" stroke="#8c8c8c" stroke-width="1.1"/>
<text transform="translate(205.20,45.00) scale(1.0,1.07)" text-anchor="end" font-size="13.3">0.1</text>
<line x1="209.5" y1="74.56" x2="214.0" y2="74.56" stroke="#8c8c8c" stroke-width="1.1"/>
<line x1="656.38" y1="74.56" x2="651.88" y2="74.56" stroke="#8c8c8c" stroke-width="1.1"/>
<text transform="translate(205.20,79.86) scale(1.0,1.07)" text-anchor="end" font-size="13.3">0</text>
<line x1="209.5" y1="109.42" x2="214.0" y2="109.42" stroke="#8c8c8c" stroke-width="1.1"/>
<line x1="656.38" y1="109.42" x2="651.88" y2="109.42" stroke="#8c8c8c" stroke-width="1.1"/>
<text transform="translate(205.20,114.72) scale(1.0,1.07)" text-anchor="end" font-size="13.3">-0.1</text>
<line x1="209.5" y1="144.28" x2="214.0" y2="144.28" stroke="#8c8c8c" stroke-width="1.1"/>
<line x1="656.38" y1="144.28" x2="651.88" y2="144.28" stroke="#8c8c8c" stroke-width="1.1"/>
<text transform="translate(205.20,149.58) scale(1.0,1.07)" text-anchor="end" font-size="13.3">-0.2</text>
<line x1="209.5" y1="179.14" x2="214.0" y2="179.14" stroke="#8c8c8c" stroke-width="1.1"/>
<line x1="656.38" y1="179.14" x2="651.88" y2="179.14" stroke="#8c8c8c" stroke-width="1.1"/>
<text transform="translate(205.20,184.44) scale(1.0,1.07)" text-anchor="end" font-size="13.3">-0.3</text>
<line x1="209.5" y1="214.00" x2="214.0" y2="214.00" stroke="#8c8c8c" stroke-width="1.1"/>
<line x1="656.38" y1="214.00" x2="651.88" y2="214.00" stroke="#8c8c8c" stroke-width="1.1"/>
<text transform="translate(205.20,219.30) scale(1.0,1.07)" text-anchor="end" font-size="13.3">-0.4</text>
<text transform="translate(432.94,265.60) scale(1.0,1.0)" text-anchor="middle" font-size="14.75">Processing time (h)</text>
<text transform="translate(176.20,126.85) rotate(-90) scale(1.0,1.0)" text-anchor="middle" font-size="14.6">Along-track orbital errors (m)</text>
<line x1="215.0" y1="279.5" x2="657.5999999999999" y2="279.5" stroke="#8c8c8c" stroke-width="1.1"/>
<line x1="657.0999999999999" y1="279.0" x2="657.0999999999999" y2="487.9" stroke="#cdcdcd" stroke-width="1.6"/>
<line x1="215.0" y1="487.4" x2="657.5999999999999" y2="487.4" stroke="#8c8c8c" stroke-width="1.1"/>
<line x1="215.5" y1="279.0" x2="215.5" y2="487.9" stroke="#8c8c8c" stroke-width="1.1"/>
<line x1="215.50" y1="487.4" x2="215.50" y2="482.9" stroke="#8c8c8c" stroke-width="1.1"/>
<line x1="215.50" y1="279.5" x2="215.50" y2="284.0" stroke="#8c8c8c" stroke-width="1.1"/>
<text transform="translate(215.50,504.10) scale(1.0,1.07)" text-anchor="middle" font-size="12.5">0</text>
<line x1="252.30" y1="487.4" x2="252.30" y2="482.9" stroke="#8c8c8c" stroke-width="1.1"/>
<line x1="252.30" y1="279.5" x2="252.30" y2="284.0" stroke="#8c8c8c" stroke-width="1.1"/>
<text transform="translate(252.30,504.10) scale(1.0,1.07)" text-anchor="middle" font-size="12.5">2</text>
<line x1="289.10" y1="487.4" x2="289.10" y2="482.9" stroke="#8c8c8c" stroke-width="1.1"/>
<line x1="289.10" y1="279.5" x2="289.10" y2="284.0" stroke="#8c8c8c" stroke-width="1.1"/>
<text transform="translate(289.10,504.10) scale(1.0,1.07)" text-anchor="middle" font-size="12.5">4</text>
<line x1="325.90" y1="487.4" x2="325.90" y2="482.9" stroke="#8c8c8c" stroke-width="1.1"/>
<line x1="325.90" y1="279.5" x2="325.90" y2="284.0" stroke="#8c8c8c" stroke-width="1.1"/>
<text transform="translate(325.90,504.10) scale(1.0,1.07)" text-anchor="middle" font-size="12.5">6</text>
<line x1="362.70" y1="487.4" x2="362.70" y2="482.9" stroke="#8c8c8c" stroke-width="1.1"/>
<line x1="362.70" y1="279.5" x2="362.70" y2="284.0" stroke="#8c8c8c" stroke-width="1.1"/>
<text transform="translate(362.70,504.10) scale(1.0,1.07)" text-anchor="middle" font-size="12.5">8</text>
<line x1="399.50" y1="487.4" x2="399.50" y2="482.9" stroke="#8c8c8c" stroke-width="1.1"/>
<line x1="399.50" y1="279.5" x2="399.50" y2="284.0" stroke="#8c8c8c" stroke-width="1.1"/>
<text transform="translate(399.50,504.10) scale(1.0,1.07)" text-anchor="middle" font-size="12.5">10</text>
<line x1="436.30" y1="487.4" x2="436.30" y2="482.9" stroke="#8c8c8c" stroke-width="1.1"/>
<line x1="436.30" y1="279.5" x2="436.30" y2="284.0" stroke="#8c8c8c" stroke-width="1.1"/>
<text transform="translate(436.30,504.10) scale(1.0,1.07)" text-anchor="middle" font-size="12.5">12</text>
<line x1="473.10" y1="487.4" x2="473.10" y2="482.9" stroke="#8c8c8c" stroke-width="1.1"/>
<line x1="473.10" y1="279.5" x2="473.10" y2="284.0" stroke="#8c8c8c" stroke-width="1.1"/>
<text transform="translate(473.10,504.10) scale(1.0,1.07)" text-anchor="middle" font-size="12.5">14</text>
<line x1="509.90" y1="487.4" x2="509.90" y2="482.9" stroke="#8c8c8c" stroke-width="1.1"/>
<line x1="509.90" y1="279.5" x2="509.90" y2="284.0" stroke="#8c8c8c" stroke-width="1.1"/>
<text transform="translate(509.90,504.10) scale(1.0,1.07)" text-anchor="middle" font-size="12.5">16</text>
<line x1="546.70" y1="487.4" x2="546.70" y2="482.9" stroke="#8c8c8c" stroke-width="1.1"/>
<line x1="546.70" y1="279.5" x2="546.70" y2="284.0" stroke="#8c8c8c" stroke-width="1.1"/>
<text transform="translate(546.70,504.10) scale(1.0,1.07)" text-anchor="middle" font-size="12.5">18</text>
<line x1="583.50" y1="487.4" x2="583.50" y2="482.9" stroke="#8c8c8c" stroke-width="1.1"/>
<line x1="583.50" y1="279.5" x2="583.50" y2="284.0" stroke="#8c8c8c" stroke-width="1.1"/>
<text transform="translate(583.50,504.10) scale(1.0,1.07)" text-anchor="middle" font-size="12.5">20</text>
<line x1="620.30" y1="487.4" x2="620.30" y2="482.9" stroke="#8c8c8c" stroke-width="1.1"/>
<line x1="620.30" y1="279.5" x2="620.30" y2="284.0" stroke="#8c8c8c" stroke-width="1.1"/>
<text transform="translate(620.30,504.10) scale(1.0,1.07)" text-anchor="middle" font-size="12.5">22</text>
<line x1="657.10" y1="487.4" x2="657.10" y2="482.9" stroke="#8c8c8c" stroke-width="1.1"/>
<line x1="657.10" y1="279.5" x2="657.10" y2="284.0" stroke="#8c8c8c" stroke-width="1.1"/>
<text transform="translate(657.10,504.10) scale(1.0,1.07)" text-anchor="middle" font-size="12.5">24</text>
<line x1="215.5" y1="296.40" x2="220.0" y2="296.40" stroke="#8c8c8c" stroke-width="1.1"/>
<line x1="657.0999999999999" y1="296.40" x2="652.5999999999999" y2="296.40" stroke="#8c8c8c" stroke-width="1.1"/>
<text transform="translate(211.20,301.70) scale(1.0,1.07)" text-anchor="end" font-size="13.3">0.1</text>
<line x1="215.5" y1="339.88" x2="220.0" y2="339.88" stroke="#8c8c8c" stroke-width="1.1"/>
<line x1="657.0999999999999" y1="339.88" x2="652.5999999999999" y2="339.88" stroke="#8c8c8c" stroke-width="1.1"/>
<text transform="translate(211.20,345.18) scale(1.0,1.07)" text-anchor="end" font-size="13.3">0.05</text>
<line x1="215.5" y1="383.35" x2="220.0" y2="383.35" stroke="#8c8c8c" stroke-width="1.1"/>
<line x1="657.0999999999999" y1="383.35" x2="652.5999999999999" y2="383.35" stroke="#8c8c8c" stroke-width="1.1"/>
<text transform="translate(211.20,388.65) scale(1.0,1.07)" text-anchor="end" font-size="13.3">0</text>
<line x1="215.5" y1="426.83" x2="220.0" y2="426.83" stroke="#8c8c8c" stroke-width="1.1"/>
<line x1="657.0999999999999" y1="426.83" x2="652.5999999999999" y2="426.83" stroke="#8c8c8c" stroke-width="1.1"/>
<text transform="translate(211.20,432.13) scale(1.0,1.07)" text-anchor="end" font-size="13.3">-0.05</text>
<line x1="215.5" y1="470.30" x2="220.0" y2="470.30" stroke="#8c8c8c" stroke-width="1.1"/>
<line x1="657.0999999999999" y1="470.30" x2="652.5999999999999" y2="470.30" stroke="#8c8c8c" stroke-width="1.1"/>
<text transform="translate(211.20,475.60) scale(1.0,1.07)" text-anchor="end" font-size="13.3">-0.1</text>
<text transform="translate(436.30,521.80) scale(1.0,1.0)" text-anchor="middle" font-size="14.75">Processing time (h)</text>
<text transform="translate(174.50,383.45) rotate(-90) scale(1.0,1.0)" text-anchor="middle" font-size="14.6">Along-track orbital errors (m)</text>
<rect x="217.5" y="30.5" width="163.8" height="17.3" fill="#fff" stroke="#7a7a7a" stroke-width="1"/>
<line x1="220.3" y1="39.1" x2="248.3" y2="39.1" stroke="#ff0000" stroke-width="2.5"/>
<text transform="translate(251.00,43.80) scale(1.0,1.07)" text-anchor="start" font-size="13.3">RP</text>
<line x1="275.4" y1="39.1" x2="303.4" y2="39.1" stroke="#0000ff" stroke-width="2.5"/>
<text transform="translate(305.60,43.80) scale(1.0,1.07)" text-anchor="start" font-size="13.3">CP</text>
<line x1="330" y1="39.1" x2="358.1" y2="39.1" stroke="#008000" stroke-width="2.5"/>
<text transform="translate(361.00,43.80) scale(1.0,1.07)" text-anchor="start" font-size="13.3">EP</text>
<rect x="223.6" y="286.7" width="111" height="18.4" rx="2" fill="#fff" stroke="#a0a0a0" stroke-width="1"/>
<line x1="226.7" y1="296" x2="255.2" y2="296" stroke="#ff0000" stroke-width="2.5"/>
<text transform="translate(257.40,300.50) scale(1.0,1.07)" text-anchor="start" font-size="13.3">RP</text>
<line x1="282" y1="296" x2="310.4" y2="296" stroke="#0000ff" stroke-width="2.5"/>
<text transform="translate(312.70,300.50) scale(1.0,1.07)" text-anchor="start" font-size="13.3">CP</text>
<text transform="translate(236.30,320.70) scale(1.0,1.07)" text-anchor="start" font-size="13.6">BP = RP + CP</text>
</svg>
</body></html>
